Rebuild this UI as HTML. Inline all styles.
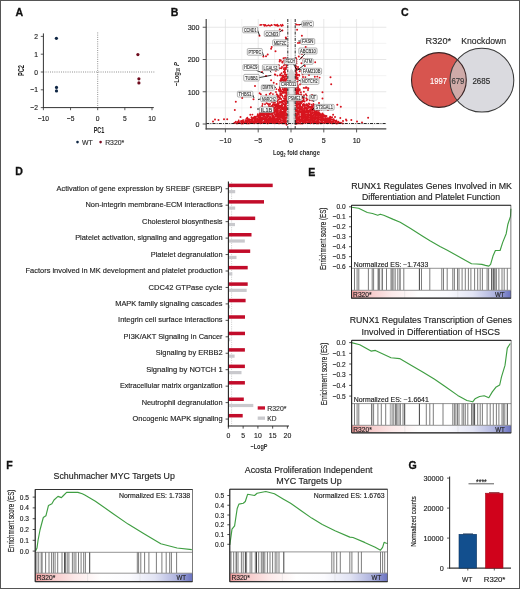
<!DOCTYPE html><html><head><meta charset="utf-8"><style>html,body{margin:0;padding:0;background:#fff;overflow:hidden;width:520px;height:589px;}svg{display:block;will-change:transform;}</style></head><body>
<svg width="520" height="589" viewBox="0 0 520 589" font-family='"Liberation Sans", sans-serif'>
<rect x="0.00" y="0.00" width="520.00" height="589.00" fill="#fff"/>
<text x="15.40" y="15.70" font-size="11.55" fill="#111" font-weight="bold" textLength="7.66" lengthAdjust="spacingAndGlyphs" stroke="#111" stroke-width="0.3">A</text>
<line x1="97.70" y1="32.50" x2="97.70" y2="107.60" stroke="#666" stroke-width="0.8" stroke-dasharray="0.9 1.3"/>
<line x1="43.40" y1="72.00" x2="154.50" y2="72.00" stroke="#666" stroke-width="0.8" stroke-dasharray="0.9 1.3"/>
<line x1="43.40" y1="33.40" x2="43.40" y2="108.10" stroke="#333" stroke-width="1"/>
<line x1="42.90" y1="107.60" x2="153.80" y2="107.60" stroke="#333" stroke-width="1"/>
<line x1="40.80" y1="36.40" x2="43.40" y2="36.40" stroke="#333" stroke-width="0.8"/>
<text x="38.00" y="39.01" font-size="7.30" fill="#222" stroke="#222" stroke-width="0.15" text-anchor="end" textLength="3.73" lengthAdjust="spacingAndGlyphs">2</text>
<line x1="40.80" y1="54.20" x2="43.40" y2="54.20" stroke="#333" stroke-width="0.8"/>
<text x="38.00" y="56.81" font-size="7.30" fill="#222" stroke="#222" stroke-width="0.15" text-anchor="end" textLength="3.73" lengthAdjust="spacingAndGlyphs">1</text>
<line x1="40.80" y1="72.00" x2="43.40" y2="72.00" stroke="#333" stroke-width="0.8"/>
<text x="38.00" y="74.61" font-size="7.30" fill="#222" stroke="#222" stroke-width="0.15" text-anchor="end" textLength="3.73" lengthAdjust="spacingAndGlyphs">0</text>
<line x1="40.80" y1="89.80" x2="43.40" y2="89.80" stroke="#333" stroke-width="0.8"/>
<text x="38.00" y="92.41" font-size="7.30" fill="#222" stroke="#222" stroke-width="0.15" text-anchor="end" textLength="7.64" lengthAdjust="spacingAndGlyphs">−1</text>
<line x1="40.80" y1="107.60" x2="43.40" y2="107.60" stroke="#333" stroke-width="0.8"/>
<text x="38.00" y="110.21" font-size="7.30" fill="#222" stroke="#222" stroke-width="0.15" text-anchor="end" textLength="7.64" lengthAdjust="spacingAndGlyphs">−2</text>
<line x1="43.40" y1="107.60" x2="43.40" y2="110.20" stroke="#333" stroke-width="0.8"/>
<text x="43.40" y="120.71" font-size="7.30" fill="#222" stroke="#222" stroke-width="0.15" text-anchor="middle" textLength="11.37" lengthAdjust="spacingAndGlyphs">−10</text>
<line x1="70.55" y1="107.60" x2="70.55" y2="110.20" stroke="#333" stroke-width="0.8"/>
<text x="70.55" y="120.71" font-size="7.30" fill="#222" stroke="#222" stroke-width="0.15" text-anchor="middle" textLength="7.64" lengthAdjust="spacingAndGlyphs">−5</text>
<line x1="97.70" y1="107.60" x2="97.70" y2="110.20" stroke="#333" stroke-width="0.8"/>
<text x="97.70" y="120.71" font-size="7.30" fill="#222" stroke="#222" stroke-width="0.15" text-anchor="middle" textLength="3.73" lengthAdjust="spacingAndGlyphs">0</text>
<line x1="124.85" y1="107.60" x2="124.85" y2="110.20" stroke="#333" stroke-width="0.8"/>
<text x="124.85" y="120.71" font-size="7.30" fill="#222" stroke="#222" stroke-width="0.15" text-anchor="middle" textLength="3.73" lengthAdjust="spacingAndGlyphs">5</text>
<line x1="152.00" y1="107.60" x2="152.00" y2="110.20" stroke="#333" stroke-width="0.8"/>
<text x="152.00" y="120.71" font-size="7.30" fill="#222" stroke="#222" stroke-width="0.15" text-anchor="middle" textLength="7.45" lengthAdjust="spacingAndGlyphs">10</text>
<text x="99.00" y="133.26" font-size="9.37" fill="#222" text-anchor="middle" font-weight="bold" textLength="10.70" lengthAdjust="spacingAndGlyphs">PC1</text>
<text x="23.60" y="70.60" font-size="9.37" fill="#222" text-anchor="middle" font-weight="bold" textLength="11.00" lengthAdjust="spacingAndGlyphs" transform="rotate(-90 23.60 70.60)">PC2</text>
<circle cx="56.40" cy="38.30" r="1.6" fill="#0f2644"/>
<circle cx="56.50" cy="87.40" r="1.6" fill="#0f2644"/>
<circle cx="56.50" cy="90.90" r="1.6" fill="#0f2644"/>
<circle cx="137.90" cy="54.60" r="1.6" fill="#6e0a1c"/>
<circle cx="138.90" cy="78.80" r="1.6" fill="#6e0a1c"/>
<circle cx="138.90" cy="82.90" r="1.6" fill="#6e0a1c"/>
<circle cx="77.50" cy="142.10" r="1.3" fill="#0f2644"/>
<text x="82.10" y="144.60" font-size="6.98" fill="#333" stroke="#333" stroke-width="0.15" textLength="10.70" lengthAdjust="spacingAndGlyphs">WT</text>
<circle cx="100.60" cy="142.10" r="1.3" fill="#7a0c20"/>
<text x="105.20" y="144.60" font-size="6.98" fill="#333" stroke="#333" stroke-width="0.15" textLength="19.00" lengthAdjust="spacingAndGlyphs">R320*</text>
<text x="170.80" y="15.70" font-size="11.55" fill="#111" font-weight="bold" textLength="7.66" lengthAdjust="spacingAndGlyphs" stroke="#111" stroke-width="0.3">B</text>
<line x1="209.00" y1="19.00" x2="209.00" y2="128.90" stroke="#ececec" stroke-width="0.6"/>
<line x1="241.80" y1="19.00" x2="241.80" y2="128.90" stroke="#ececec" stroke-width="0.6"/>
<line x1="274.60" y1="19.00" x2="274.60" y2="128.90" stroke="#ececec" stroke-width="0.6"/>
<line x1="307.40" y1="19.00" x2="307.40" y2="128.90" stroke="#ececec" stroke-width="0.6"/>
<line x1="340.20" y1="19.00" x2="340.20" y2="128.90" stroke="#ececec" stroke-width="0.6"/>
<line x1="373.00" y1="19.00" x2="373.00" y2="128.90" stroke="#ececec" stroke-width="0.6"/>
<line x1="206.20" y1="107.88" x2="386.30" y2="107.88" stroke="#ececec" stroke-width="0.6"/>
<line x1="206.20" y1="75.62" x2="386.30" y2="75.62" stroke="#ececec" stroke-width="0.6"/>
<line x1="206.20" y1="43.38" x2="386.30" y2="43.38" stroke="#ececec" stroke-width="0.6"/>
<line x1="225.40" y1="19.00" x2="225.40" y2="128.90" stroke="#dcdcdc" stroke-width="0.7"/>
<line x1="258.20" y1="19.00" x2="258.20" y2="128.90" stroke="#dcdcdc" stroke-width="0.7"/>
<line x1="291.00" y1="19.00" x2="291.00" y2="128.90" stroke="#dcdcdc" stroke-width="0.7"/>
<line x1="323.80" y1="19.00" x2="323.80" y2="128.90" stroke="#dcdcdc" stroke-width="0.7"/>
<line x1="356.60" y1="19.00" x2="356.60" y2="128.90" stroke="#dcdcdc" stroke-width="0.7"/>
<line x1="206.20" y1="124.00" x2="386.30" y2="124.00" stroke="#dcdcdc" stroke-width="0.7"/>
<line x1="206.20" y1="91.75" x2="386.30" y2="91.75" stroke="#dcdcdc" stroke-width="0.7"/>
<line x1="206.20" y1="59.50" x2="386.30" y2="59.50" stroke="#dcdcdc" stroke-width="0.7"/>
<line x1="206.20" y1="27.25" x2="386.30" y2="27.25" stroke="#dcdcdc" stroke-width="0.7"/>
<path d="M287.6,124 L287.6,78 Q288.8,70 291.4,69 Q294.1,70 295.3,78 L295.3,124 Z" fill="#d4d4d4"/>
<path d="M289.5,124 L289.5,90 Q291.4,80 293.4,90 L293.4,124 Z" fill="#ebebeb"/>
<path d="M286.6 124.7h0M296.4 123.9h0M234.0 123.1h0M234.8 122.8h0M236.7 123.4h0M237.8 123.3h0M238.8 122.9h0M239.6 122.9h0M241.4 123.5h0M242.9 123.5h0M243.6 122.8h0M244.7 122.8h0M246.6 123.4h0M247.6 123.3h0M248.9 123.4h0M250.2 123.0h0M251.5 122.9h0M252.9 123.0h0M254.2 123.3h0M254.7 122.7h0M256.5 122.7h0M257.9 123.2h0M258.8 122.7h0M260.4 123.2h0M261.6 123.0h0M262.8 122.8h0M263.6 122.8h0M264.8 123.0h0M266.6 122.9h0M267.6 123.4h0M269.1 123.1h0M270.0 122.6h0M271.0 122.6h0M272.2 123.0h0M273.8 122.9h0M275.0 123.3h0M276.3 122.8h0M277.7 123.1h0M279.0 123.4h0M280.1 123.1h0M281.4 123.0h0M282.5 123.4h0M284.1 123.4h0M285.1 123.4h0M285.9 122.7h0M295.9 122.8h0M297.7 123.3h0M298.4 123.2h0M299.7 123.4h0M301.0 123.5h0M302.5 123.5h0M303.4 123.0h0M304.9 122.8h0M306.4 122.6h0M307.4 122.6h0M308.9 123.1h0M310.4 123.3h0M310.9 122.8h0M312.8 122.8h0M313.7 123.4h0M314.8 122.7h0M316.3 123.2h0M317.1 123.2h0M318.4 123.4h0M320.3 122.7h0M320.9 123.4h0M322.4 123.1h0M323.5 122.7h0M324.8 122.7h0M325.8 122.8h0M327.3 123.3h0M328.8 122.8h0M329.6 122.8h0M331.5 123.1h0M332.5 123.4h0M334.0 123.0h0M335.3 123.0h0M336.4 123.5h0M337.8 123.2h0M338.7 122.9h0M339.7 122.7h0M341.0 122.7h0M342.8 123.4h0M235.9 121.7h0M237.8 121.9h0M238.9 122.0h0M239.6 122.1h0M241.3 121.8h0M242.1 122.0h0M243.4 121.6h0M244.7 122.0h0M246.2 121.7h0M247.7 122.0h0M248.9 121.4h0M249.8 122.0h0M251.3 121.4h0M252.3 122.0h0M253.9 121.6h0M255.0 121.8h0M256.6 121.5h0M257.9 121.4h0M259.0 122.2h0M259.8 121.5h0M261.0 121.9h0M262.5 122.2h0M264.0 121.8h0M265.2 121.6h0M266.2 121.4h0M267.5 121.8h0M268.4 121.7h0M270.3 121.4h0M271.6 121.5h0M272.7 122.2h0M273.6 121.7h0M275.1 121.7h0M276.0 121.4h0M277.8 121.6h0M278.5 121.6h0M279.7 121.7h0M281.6 122.1h0M282.9 122.2h0M283.9 121.4h0M285.0 122.0h0M286.1 121.4h0M295.9 121.8h0M297.3 122.0h0M298.5 121.9h0M300.1 121.7h0M300.9 121.5h0M302.5 121.5h0M304.2 121.8h0M304.7 121.4h0M305.9 121.6h0M307.6 122.1h0M308.7 121.7h0M309.9 121.7h0M311.0 122.2h0M312.5 121.9h0M313.5 121.6h0M314.9 121.8h0M316.6 122.1h0M317.1 122.0h0M318.7 121.9h0M319.9 122.2h0M321.6 122.2h0M322.1 121.5h0M323.9 122.2h0M325.1 122.0h0M326.3 121.4h0M327.3 122.2h0M328.6 121.5h0M330.1 122.0h0M330.9 121.8h0M332.4 121.6h0M333.3 121.6h0M335.4 121.9h0M336.2 121.6h0M337.9 122.0h0M338.3 121.8h0M238.7 120.4h0M241.1 120.9h0M242.4 120.8h0M243.3 120.1h0M245.4 120.3h0M246.6 120.4h0M247.9 120.7h0M248.9 120.4h0M249.6 120.8h0M251.4 120.9h0M252.3 120.5h0M254.2 120.4h0M254.9 120.5h0M256.0 120.8h0M257.8 120.8h0M258.6 120.4h0M260.3 120.2h0M261.5 120.3h0M262.1 120.6h0M264.2 120.9h0M264.8 120.2h0M266.2 120.7h0M267.3 120.5h0M268.9 120.8h0M270.1 120.2h0M271.1 120.6h0M272.7 120.3h0M273.5 120.2h0M275.1 120.4h0M276.7 120.6h0M277.8 120.7h0M278.4 120.5h0M280.3 120.9h0M281.1 120.2h0M282.9 120.6h0M283.6 120.9h0M284.8 120.8h0M285.9 120.6h0M296.0 120.4h0M297.2 120.3h0M298.9 120.3h0M299.8 120.7h0M301.1 120.3h0M302.5 120.2h0M303.7 120.6h0M304.6 120.2h0M306.2 120.4h0M307.9 120.4h0M308.6 120.5h0M310.4 120.4h0M311.5 120.3h0M312.9 120.5h0M313.7 120.9h0M314.7 120.1h0M316.4 120.9h0M317.6 120.4h0M318.4 120.4h0M320.4 120.2h0M321.5 121.0h0M322.2 120.9h0M323.7 120.1h0M324.9 120.9h0M326.5 120.2h0M327.2 120.5h0M329.0 120.3h0M329.9 120.6h0M330.9 120.3h0M332.9 120.1h0M334.0 120.1h0M334.7 120.6h0M336.4 120.4h0M247.8 118.9h0M248.9 119.2h0M249.8 119.7h0M251.1 119.5h0M252.2 119.5h0M254.0 119.1h0M255.4 119.4h0M256.1 118.9h0M257.2 119.4h0M258.8 119.7h0M259.8 119.4h0M260.8 119.2h0M262.4 119.1h0M263.8 119.0h0M265.0 119.0h0M266.0 119.0h0M267.6 119.6h0M268.7 119.1h0M270.1 119.4h0M271.4 119.2h0M272.7 119.1h0M273.3 119.3h0M274.8 118.9h0M275.8 119.3h0M277.2 119.0h0M278.8 119.4h0M279.7 119.1h0M280.8 119.7h0M282.7 118.9h0M284.0 119.3h0M285.0 119.1h0M286.0 118.9h0M296.5 119.5h0M297.7 119.1h0M298.7 119.6h0M299.8 119.4h0M301.0 119.6h0M302.3 119.1h0M304.2 119.5h0M305.3 119.1h0M306.6 119.4h0M307.6 119.7h0M309.1 119.5h0M309.9 119.5h0M311.1 119.0h0M312.1 119.7h0M313.3 118.9h0M314.9 119.0h0M315.8 119.5h0M317.7 119.5h0M318.8 119.2h0M320.3 119.7h0M321.6 119.7h0M322.1 119.0h0M323.3 119.6h0M325.1 119.6h0M326.1 118.9h0M327.7 119.0h0M328.7 118.9h0M329.8 119.5h0M331.1 119.7h0M332.8 119.4h0M333.7 119.2h0M346.0 119.5h0M247.3 117.8h0M251.7 117.7h0M252.9 118.3h0M253.7 117.8h0M254.6 117.8h0M255.8 118.0h0M257.7 118.1h0M258.7 117.7h0M259.9 118.3h0M261.2 118.1h0M262.4 117.8h0M264.1 118.3h0M265.3 118.2h0M266.2 117.9h0M267.1 118.0h0M268.9 118.2h0M269.9 118.0h0M271.2 118.2h0M272.2 118.2h0M273.6 118.0h0M274.6 118.1h0M276.5 118.4h0M277.1 118.1h0M278.9 118.1h0M280.3 118.1h0M281.7 117.8h0M282.4 118.3h0M284.2 117.9h0M284.8 118.0h0M286.2 118.0h0M296.1 117.8h0M297.7 118.4h0M298.5 118.3h0M299.7 117.7h0M301.5 118.2h0M302.6 117.8h0M303.6 118.2h0M305.3 118.0h0M306.3 117.7h0M307.4 118.4h0M308.6 117.8h0M309.7 117.6h0M311.1 117.8h0M312.5 118.0h0M313.9 117.9h0M315.3 117.7h0M316.6 118.3h0M317.8 118.2h0M318.3 118.5h0M319.8 117.7h0M321.0 118.3h0M322.2 118.4h0M323.5 118.4h0M325.3 118.2h0M326.5 118.4h0M327.7 118.1h0M328.7 118.4h0M329.8 117.8h0M331.2 117.7h0M340.3 118.0h0M251.5 117.2h0M254.0 117.1h0M254.8 116.6h0M256.1 116.7h0M257.9 116.4h0M258.3 116.5h0M260.1 117.2h0M260.8 116.7h0M262.9 117.2h0M263.7 116.4h0M264.7 116.5h0M265.8 117.0h0M267.9 116.4h0M268.4 116.4h0M269.8 117.0h0M270.8 117.0h0M272.8 117.0h0M273.9 117.0h0M275.4 116.6h0M276.4 116.4h0M277.6 117.1h0M278.6 117.0h0M280.3 116.8h0M281.1 116.9h0M282.7 116.5h0M283.6 116.9h0M284.9 116.7h0M286.7 117.1h0M296.1 116.4h0M297.7 117.1h0M298.8 117.2h0M300.1 116.6h0M301.6 116.7h0M302.6 117.2h0M303.6 116.4h0M304.9 116.9h0M306.6 116.4h0M307.8 117.1h0M308.5 117.1h0M310.2 117.2h0M310.9 116.8h0M312.2 117.0h0M313.5 116.9h0M315.0 116.5h0M316.5 117.1h0M317.1 117.1h0M318.5 116.9h0M320.3 116.8h0M321.3 116.5h0M322.2 117.0h0M323.8 116.7h0M324.7 116.4h0M326.1 116.4h0M330.1 116.7h0M332.1 117.2h0M257.6 115.2h0M258.4 115.7h0M259.7 115.9h0M261.2 115.2h0M262.8 115.4h0M263.7 115.4h0M264.7 116.0h0M266.6 115.7h0M267.5 115.4h0M268.5 115.4h0M272.1 115.4h0M273.4 115.8h0M275.4 115.1h0M276.1 115.2h0M277.8 115.6h0M278.7 115.9h0M280.1 115.2h0M281.5 115.7h0M282.1 115.2h0M283.7 115.3h0M285.1 115.7h0M286.3 115.3h0M296.5 115.5h0M297.1 115.8h0M299.1 115.9h0M299.6 115.9h0M301.6 115.3h0M302.8 115.4h0M303.6 115.6h0M305.0 115.5h0M305.9 115.7h0M307.8 115.4h0M308.6 115.8h0M310.3 116.0h0M311.3 115.6h0M312.1 116.0h0M313.5 115.2h0M315.3 115.1h0M316.4 115.3h0M317.6 115.6h0M318.9 115.2h0M320.2 115.1h0M321.2 115.6h0M322.2 115.5h0M323.8 115.9h0M325.1 115.8h0M326.5 115.9h0M252.4 114.6h0M257.9 114.1h0M259.6 114.6h0M260.9 114.2h0M262.7 113.9h0M264.2 114.5h0M264.9 114.2h0M266.4 114.6h0M267.5 114.5h0M269.0 114.3h0M270.2 114.7h0M271.6 113.9h0M272.6 114.3h0M274.9 114.6h0M276.3 114.2h0M277.5 114.5h0M278.7 114.3h0M279.8 114.6h0M281.2 114.2h0M282.3 114.0h0M283.8 113.9h0M284.8 114.6h0M286.7 114.0h0M296.6 113.9h0M297.6 114.3h0M299.0 114.3h0M301.3 114.5h0M302.4 114.4h0M304.2 114.5h0M304.6 114.2h0M306.3 114.4h0M307.9 114.3h0M308.9 114.7h0M310.0 114.6h0M311.1 114.7h0M312.5 113.9h0M313.9 114.6h0M316.2 114.0h0M317.5 114.3h0M318.5 114.4h0M319.9 114.7h0M320.8 114.2h0M322.3 114.5h0M323.6 114.6h0M259.9 113.3h0M261.7 112.8h0M263.5 113.0h0M265.2 112.8h0M266.3 112.9h0M267.6 112.8h0M268.4 113.1h0M269.8 113.3h0M271.4 113.1h0M272.4 112.7h0M274.1 112.9h0M274.6 113.1h0M276.3 112.9h0M277.3 112.8h0M278.9 112.9h0M280.4 113.3h0M281.6 112.7h0M282.1 113.2h0M283.6 113.0h0M285.2 112.8h0M286.1 113.2h0M295.9 113.4h0M297.7 112.6h0M298.4 112.8h0M299.9 112.6h0M301.4 112.8h0M302.6 113.2h0M303.7 113.2h0M304.6 113.4h0M306.1 112.6h0M307.6 112.6h0M308.4 113.3h0M310.4 113.3h0M311.4 113.0h0M312.8 112.9h0M314.2 113.0h0M315.2 113.3h0M316.4 113.0h0M317.7 113.0h0M319.1 112.7h0M319.6 113.2h0M322.5 113.5h0M263.4 111.6h0M264.6 112.0h0M266.2 112.2h0M267.1 111.7h0M269.0 111.4h0M270.3 112.1h0M271.1 111.9h0M272.4 111.7h0M273.9 112.1h0M274.7 111.6h0M276.3 111.7h0M277.1 111.6h0M279.2 112.2h0M280.4 112.2h0M281.5 111.4h0M282.6 111.6h0M284.2 111.8h0M284.8 111.7h0M285.8 111.5h0M296.2 111.4h0M297.4 111.9h0M298.8 111.9h0M299.7 111.5h0M301.3 111.5h0M302.3 111.4h0M303.5 111.8h0M304.8 111.9h0M306.3 111.9h0M307.4 111.4h0M309.1 111.8h0M310.2 111.5h0M312.1 112.1h0M313.5 112.2h0M315.2 111.5h0M315.9 111.6h0M317.1 111.9h0M318.6 112.0h0M265.3 110.9h0M266.4 110.4h0M267.7 110.6h0M268.6 110.6h0M269.6 110.4h0M271.7 110.5h0M272.3 110.3h0M273.4 110.1h0M275.0 110.5h0M276.1 110.3h0M277.3 110.4h0M278.8 110.9h0M280.4 110.6h0M281.0 110.6h0M284.0 110.5h0M284.6 110.5h0M286.0 110.3h0M295.9 110.3h0M297.2 110.5h0M298.8 110.9h0M299.7 110.8h0M302.1 110.8h0M303.6 110.2h0M305.0 110.9h0M306.6 110.3h0M307.7 110.7h0M308.9 110.4h0M309.9 110.1h0M311.1 110.5h0M312.3 110.5h0M314.1 110.6h0M316.4 110.8h0M317.1 110.2h0M319.0 110.2h0M267.1 109.0h0M270.4 109.0h0M270.9 109.0h0M272.1 109.2h0M273.9 109.6h0M276.0 109.6h0M277.1 109.3h0M278.7 108.9h0M280.4 109.1h0M280.9 109.3h0M282.4 109.0h0M283.4 109.5h0M284.7 109.2h0M286.6 109.2h0M296.7 109.6h0M297.3 109.0h0M298.4 108.9h0M299.9 109.4h0M300.8 109.5h0M302.5 109.3h0M304.2 109.6h0M304.9 109.1h0M306.7 109.2h0M307.4 109.0h0M310.1 109.7h0M311.3 109.2h0M312.2 109.0h0M314.0 109.7h0M315.2 109.1h0M321.5 109.6h0M268.4 108.3h0M270.0 108.0h0M271.5 107.6h0M272.5 108.0h0M273.7 108.0h0M274.9 108.0h0M276.5 108.2h0M277.4 107.6h0M278.8 108.3h0M279.7 107.8h0M281.5 107.7h0M282.7 108.1h0M283.9 108.2h0M284.6 108.2h0M286.3 108.5h0M296.6 107.7h0M297.5 107.6h0M299.8 107.9h0M301.6 108.1h0M302.4 107.6h0M304.1 108.3h0M304.8 107.8h0M306.3 107.9h0M307.5 108.1h0M309.0 107.8h0M310.1 107.6h0M311.3 108.0h0M312.3 107.8h0M313.6 108.2h0M270.0 106.4h0M270.9 106.9h0M272.4 106.9h0M273.5 107.2h0M275.3 107.1h0M275.9 106.4h0M277.2 106.8h0M278.4 106.8h0M280.0 106.8h0M281.0 106.7h0M282.2 106.6h0M283.8 107.2h0M285.4 106.8h0M286.3 107.0h0M296.5 106.5h0M297.1 106.7h0M298.6 107.2h0M300.1 106.6h0M301.5 107.0h0M302.3 106.9h0M305.1 107.0h0M306.1 107.1h0M307.9 106.4h0M308.7 106.7h0M309.8 107.0h0M310.9 106.7h0M312.2 106.5h0M314.2 107.2h0M262.2 106.0h0M268.8 105.9h0M271.6 105.9h0M272.1 105.7h0M274.2 105.4h0M275.1 105.4h0M276.4 105.9h0M277.4 106.0h0M279.1 105.7h0M280.0 105.8h0M281.5 105.8h0M282.3 105.2h0M284.7 105.6h0M285.8 105.5h0M296.4 105.4h0M297.3 105.6h0M299.2 105.7h0M300.2 105.4h0M302.7 105.3h0M303.8 105.8h0M304.9 105.2h0M306.6 105.2h0M307.2 105.4h0M308.6 105.4h0M312.3 105.9h0M313.6 105.5h0M314.8 105.5h0M262.6 104.0h0M265.0 104.3h0M267.8 103.9h0M268.9 104.2h0M270.1 104.0h0M272.8 104.6h0M273.3 104.6h0M275.0 104.2h0M276.4 104.5h0M277.4 104.3h0M278.5 104.6h0M281.7 104.1h0M283.7 104.0h0M285.2 104.5h0M286.1 104.0h0M296.1 104.0h0M297.5 104.2h0M298.9 104.0h0M300.1 104.5h0M302.9 104.7h0M303.9 103.9h0M304.6 104.6h0M306.4 104.1h0M307.2 104.4h0M309.6 104.0h0M311.6 104.6h0M313.4 104.0h0M266.6 103.1h0M273.3 103.1h0M274.9 102.6h0M277.8 103.3h0M278.4 103.2h0M279.9 102.7h0M282.4 102.7h0M285.3 102.7h0M286.1 103.3h0M296.3 103.5h0M297.1 102.7h0M298.9 103.1h0M300.0 103.0h0M301.4 103.4h0M308.9 103.4h0M271.7 101.7h0M273.5 101.4h0M275.3 101.5h0M277.7 101.5h0M279.9 101.8h0M281.0 102.1h0M282.4 102.0h0M283.5 101.5h0M284.9 101.9h0M286.6 101.4h0M296.6 101.6h0M297.4 101.5h0M298.9 101.4h0M300.0 101.5h0M301.2 101.5h0M302.4 101.8h0M304.6 101.6h0M269.8 100.4h0M275.3 100.8h0M276.3 100.2h0M277.6 100.6h0M282.1 100.9h0M283.5 100.7h0M284.8 100.4h0M286.4 100.2h0M296.4 100.5h0M297.8 100.1h0M298.9 100.7h0M299.7 101.0h0M302.4 101.0h0M303.7 101.0h0M306.5 100.4h0M309.8 100.3h0M312.2 100.5h0M278.6 99.5h0M280.1 98.9h0M281.3 99.0h0M284.7 99.0h0M286.3 99.2h0M296.3 99.5h0M297.1 99.2h0M298.5 99.5h0M299.8 99.3h0M303.7 99.7h0M307.5 99.4h0M310.4 99.7h0M273.6 97.8h0M274.8 97.6h0M277.1 97.7h0M280.0 98.0h0M283.9 98.4h0M285.4 98.3h0M286.6 98.1h0M296.3 98.3h0M297.5 98.0h0M299.7 97.9h0M301.7 98.2h0M302.9 97.6h0M303.7 98.2h0M306.3 98.3h0M272.8 96.9h0M274.1 97.0h0M276.6 96.7h0M277.3 96.8h0M279.0 97.2h0M279.9 97.1h0M282.7 96.7h0M284.9 96.5h0M286.6 97.1h0M296.1 96.8h0M297.4 97.2h0M298.8 97.2h0M300.0 96.6h0M301.3 97.1h0M302.4 96.7h0M277.7 95.2h0M278.4 95.9h0M280.2 95.3h0M282.1 95.5h0M285.1 95.4h0M286.6 95.9h0M297.6 95.8h0M300.3 95.5h0M304.0 95.2h0M306.7 95.6h0M260.8 94.2h0M266.2 94.7h0M269.7 94.0h0M272.9 94.1h0M276.7 94.2h0M277.1 94.6h0M280.2 94.1h0M281.1 94.4h0M286.4 94.0h0M296.3 94.2h0M298.4 94.0h0M300.1 94.6h0M301.3 94.4h0M305.9 94.2h0M259.6 93.3h0M270.8 92.9h0M280.4 93.2h0M282.2 93.1h0M283.6 92.9h0M285.1 92.8h0M286.3 93.1h0M296.4 92.8h0M297.3 93.3h0M276.0 92.0h0M280.0 91.5h0M280.9 91.4h0M282.4 91.8h0M283.9 91.8h0M286.3 91.8h0M296.6 91.5h0M298.6 91.9h0M300.9 92.2h0M303.9 91.8h0M279.0 90.8h0M281.0 90.4h0M283.7 90.6h0M285.4 90.5h0M286.5 90.3h0M296.1 90.8h0M297.3 90.7h0M298.6 90.6h0M299.9 90.1h0M272.4 89.1h0M276.4 89.1h0M278.8 89.6h0M280.2 88.9h0M282.7 89.2h0M283.7 89.3h0M284.7 89.3h0M286.7 89.2h0M296.0 89.7h0M297.6 89.6h0M299.0 89.1h0M299.6 89.3h0M279.8 87.9h0M284.7 87.7h0M286.0 87.9h0M295.9 88.2h0M297.8 87.9h0M303.7 87.9h0M305.3 87.9h0M306.7 87.8h0M308.4 88.2h0M279.8 87.0h0M282.5 87.2h0M286.7 86.4h0M296.3 87.0h0M306.1 87.1h0M281.3 85.9h0M282.3 85.2h0M284.0 85.2h0M285.4 85.5h0M286.6 85.9h0M295.9 85.7h0M297.9 85.7h0M276.6 83.9h0M281.0 84.6h0M284.6 84.5h0M286.2 83.9h0M296.4 84.5h0M297.4 84.5h0M300.0 84.4h0M273.7 82.7h0M282.7 83.3h0M285.4 83.0h0M286.5 82.8h0M296.6 82.8h0M297.2 83.5h0M301.6 83.2h0M307.4 82.7h0M281.0 81.7h0M283.7 82.1h0M285.2 81.6h0M297.6 81.4h0M303.4 81.9h0M271.1 80.2h0M280.2 80.8h0M280.9 80.7h0M282.2 80.2h0M283.4 80.4h0M285.0 80.5h0M285.9 80.4h0M281.0 78.9h0M282.1 79.3h0M283.9 79.4h0M284.8 79.5h0M286.4 79.3h0M296.1 78.9h0M297.6 79.0h0M311.1 79.2h0M281.4 78.3h0M282.5 78.2h0M284.7 78.0h0M286.6 78.5h0M296.1 77.8h0M297.7 77.8h0M319.6 77.6h0M282.6 76.7h0M283.4 77.1h0M285.4 76.5h0M286.3 76.4h0M296.3 76.8h0M305.4 77.1h0M314.8 76.7h0M317.3 76.6h0M277.5 75.6h0M280.0 75.2h0M281.2 75.4h0M282.5 75.4h0M283.3 75.6h0M286.1 75.4h0M296.2 75.8h0M297.2 75.3h0M274.8 74.4h0M280.3 74.5h0M284.7 74.0h0M286.4 74.6h0M295.8 74.7h0M297.3 74.6h0M299.0 74.7h0M302.6 74.4h0M281.6 73.1h0M285.2 72.8h0M296.6 73.0h0M284.2 71.4h0M284.8 71.4h0M296.1 72.1h0M275.9 70.7h0M285.0 70.1h0M296.1 70.4h0M283.8 69.1h0M285.1 69.7h0M286.0 69.0h0M296.5 68.9h0M276.2 68.5h0M279.8 68.3h0M281.5 68.3h0M284.1 67.9h0M285.4 68.1h0M285.9 67.6h0M295.9 68.3h0M273.8 67.1h0M286.5 67.0h0M296.0 66.6h0M283.8 65.5h0M286.5 65.6h0M295.9 66.0h0M285.1 64.2h0M286.3 64.7h0M285.2 63.3h0M286.2 63.0h0M296.5 63.4h0M301.4 63.3h0M279.6 61.5h0M282.4 61.7h0M296.4 61.5h0M315.2 62.2h0M284.2 60.8h0M285.1 60.4h0M286.6 60.4h0M296.0 60.3h0M303.6 60.6h0M285.4 59.6h0M286.3 59.4h0M296.5 59.5h0M304.0 59.3h0M283.5 58.2h0M285.1 57.9h0M286.5 58.4h0M296.2 58.1h0M301.6 57.6h0" stroke="#d7141e" stroke-width="1.9" stroke-linecap="round" fill="none"/>
<path d="M288.4 97.0h0M294.2 97.7h0M288.9 80.6h0M293.9 114.0h0M293.6 114.6h0M288.5 96.0h0M288.9 118.0h0M293.9 98.1h0M288.4 112.4h0M289.3 115.1h0M294.6 109.3h0M293.5 91.3h0M293.7 85.7h0M288.4 123.3h0M293.4 97.2h0M289.2 100.6h0M294.4 85.9h0M293.9 117.9h0M289.2 97.3h0M294.4 113.6h0M294.1 84.3h0M289.3 97.7h0M293.9 99.3h0M289.1 121.3h0M288.6 115.4h0M288.7 89.9h0M288.5 80.5h0M294.5 100.3h0M288.4 92.4h0M288.6 113.1h0M288.5 82.4h0M288.6 116.9h0M288.8 88.0h0M289.2 84.1h0M294.1 115.3h0M288.4 93.7h0M294.7 96.9h0M288.6 119.7h0M293.8 102.1h0M294.5 100.7h0M294.0 91.7h0M294.3 98.0h0M294.5 109.1h0M288.7 120.9h0M293.9 118.4h0M289.2 93.3h0M288.9 117.9h0M294.2 102.5h0M294.5 87.4h0M289.0 80.6h0M288.7 92.2h0M294.0 84.4h0M294.2 103.5h0M288.3 100.9h0M293.9 98.9h0M288.7 116.0h0M288.4 98.1h0M293.7 95.0h0M293.9 90.2h0M294.5 94.6h0M293.9 109.3h0M294.0 91.7h0M289.3 104.7h0M288.6 115.9h0M288.9 83.9h0M289.0 93.2h0M294.1 96.1h0M288.8 116.5h0M289.0 119.4h0M294.0 82.0h0M294.5 98.4h0M294.0 98.8h0M293.8 97.9h0M293.4 100.4h0M288.7 111.2h0M294.4 94.0h0M288.8 112.4h0M293.7 84.1h0M293.5 90.1h0M294.3 92.0h0M289.1 109.0h0M294.0 84.7h0M293.5 101.6h0M288.8 116.3h0M293.4 97.9h0M294.5 109.7h0M288.8 117.0h0M288.4 102.8h0M289.1 112.5h0M293.6 87.3h0" stroke="#c6c6c6" stroke-width="1.1" stroke-linecap="round" fill="none"/>
<circle cx="224.00" cy="119.30" r="1.0" fill="#d7141e"/>
<circle cx="227.20" cy="119.30" r="1.0" fill="#d7141e"/>
<circle cx="235.80" cy="101.80" r="1.0" fill="#d7141e"/>
<circle cx="234.80" cy="110.10" r="1.0" fill="#d7141e"/>
<circle cx="250.90" cy="107.20" r="1.0" fill="#d7141e"/>
<circle cx="242.20" cy="98.00" r="1.0" fill="#d7141e"/>
<circle cx="253.50" cy="99.20" r="1.0" fill="#d7141e"/>
<circle cx="240.50" cy="117.00" r="1.0" fill="#d7141e"/>
<circle cx="246.50" cy="118.70" r="1.0" fill="#d7141e"/>
<circle cx="250.30" cy="114.80" r="1.0" fill="#d7141e"/>
<circle cx="215.00" cy="119.50" r="1.0" fill="#d7141e"/>
<circle cx="218.50" cy="120.00" r="1.0" fill="#d7141e"/>
<circle cx="213.00" cy="121.50" r="1.0" fill="#d7141e"/>
<circle cx="322.50" cy="92.30" r="1.0" fill="#d7141e"/>
<circle cx="322.50" cy="98.50" r="1.0" fill="#d7141e"/>
<circle cx="337.30" cy="104.80" r="1.0" fill="#d7141e"/>
<circle cx="340.80" cy="106.70" r="1.0" fill="#d7141e"/>
<circle cx="333.10" cy="114.80" r="1.0" fill="#d7141e"/>
<circle cx="346.50" cy="120.60" r="1.0" fill="#d7141e"/>
<circle cx="351.30" cy="120.00" r="1.0" fill="#d7141e"/>
<circle cx="368.10" cy="117.70" r="1.0" fill="#d7141e"/>
<circle cx="331.20" cy="84.30" r="1.0" fill="#d7141e"/>
<circle cx="330.50" cy="77.20" r="1.0" fill="#d7141e"/>
<circle cx="357.00" cy="121.50" r="1.0" fill="#d7141e"/>
<circle cx="362.00" cy="122.50" r="1.0" fill="#d7141e"/>
<circle cx="259.50" cy="35.70" r="1.0" fill="#d7141e"/>
<circle cx="282.40" cy="30.50" r="1.0" fill="#d7141e"/>
<circle cx="279.80" cy="29.50" r="1.0" fill="#d7141e"/>
<circle cx="285.80" cy="37.50" r="1.0" fill="#d7141e"/>
<circle cx="271.70" cy="47.00" r="1.0" fill="#d7141e"/>
<circle cx="271.10" cy="48.70" r="1.0" fill="#d7141e"/>
<circle cx="275.50" cy="51.30" r="1.0" fill="#d7141e"/>
<circle cx="263.40" cy="56.50" r="1.0" fill="#d7141e"/>
<circle cx="266.00" cy="56.20" r="1.0" fill="#d7141e"/>
<circle cx="267.70" cy="54.40" r="1.0" fill="#d7141e"/>
<circle cx="279.80" cy="60.00" r="1.0" fill="#d7141e"/>
<circle cx="282.40" cy="62.60" r="1.0" fill="#d7141e"/>
<circle cx="278.90" cy="65.20" r="1.0" fill="#d7141e"/>
<circle cx="280.80" cy="60.60" r="1.0" fill="#d7141e"/>
<circle cx="282.00" cy="67.10" r="1.0" fill="#d7141e"/>
<circle cx="283.80" cy="71.90" r="1.0" fill="#d7141e"/>
<circle cx="275.40" cy="74.80" r="1.0" fill="#d7141e"/>
<circle cx="284.30" cy="76.60" r="1.0" fill="#d7141e"/>
<circle cx="281.40" cy="80.20" r="1.0" fill="#d7141e"/>
<circle cx="285.50" cy="89.70" r="1.0" fill="#d7141e"/>
<circle cx="286.00" cy="38.50" r="1.0" fill="#d7141e"/>
<circle cx="262.00" cy="72.00" r="1.0" fill="#d7141e"/>
<circle cx="266.00" cy="76.00" r="1.0" fill="#d7141e"/>
<circle cx="270.00" cy="69.00" r="1.0" fill="#d7141e"/>
<circle cx="258.00" cy="79.00" r="1.0" fill="#d7141e"/>
<circle cx="255.00" cy="86.00" r="1.0" fill="#d7141e"/>
<circle cx="268.00" cy="88.00" r="1.0" fill="#d7141e"/>
<circle cx="297.10" cy="29.70" r="1.0" fill="#d7141e"/>
<circle cx="296.20" cy="24.50" r="1.0" fill="#d7141e"/>
<circle cx="301.90" cy="35.80" r="1.0" fill="#d7141e"/>
<circle cx="299.70" cy="42.70" r="1.0" fill="#d7141e"/>
<circle cx="305.70" cy="47.00" r="1.0" fill="#d7141e"/>
<circle cx="298.80" cy="56.50" r="1.0" fill="#d7141e"/>
<circle cx="298.00" cy="66.90" r="1.0" fill="#d7141e"/>
<circle cx="304.90" cy="66.00" r="1.0" fill="#d7141e"/>
<circle cx="299.70" cy="71.20" r="1.0" fill="#d7141e"/>
<circle cx="298.00" cy="68.90" r="1.0" fill="#d7141e"/>
<circle cx="299.20" cy="75.40" r="1.0" fill="#d7141e"/>
<circle cx="298.00" cy="87.30" r="1.0" fill="#d7141e"/>
<circle cx="297.40" cy="92.10" r="1.0" fill="#d7141e"/>
<circle cx="303.00" cy="77.00" r="1.0" fill="#d7141e"/>
<circle cx="306.00" cy="71.00" r="1.0" fill="#d7141e"/>
<circle cx="309.00" cy="75.00" r="1.0" fill="#d7141e"/>
<circle cx="313.00" cy="80.00" r="1.0" fill="#d7141e"/>
<circle cx="298.00" cy="43.00" r="1.0" fill="#d7141e"/>
<circle cx="300.00" cy="49.00" r="1.0" fill="#d7141e"/>
<circle cx="302.00" cy="54.00" r="1.0" fill="#d7141e"/>
<circle cx="308.00" cy="90.00" r="1.0" fill="#d7141e"/>
<circle cx="312.00" cy="95.00" r="1.0" fill="#d7141e"/>
<circle cx="316.00" cy="99.00" r="1.0" fill="#d7141e"/>
<circle cx="319.00" cy="103.00" r="1.0" fill="#d7141e"/>
<circle cx="324.00" cy="108.00" r="1.0" fill="#d7141e"/>
<circle cx="328.00" cy="110.00" r="1.0" fill="#d7141e"/>
<circle cx="335.00" cy="117.00" r="1.0" fill="#d7141e"/>
<circle cx="343.00" cy="121.00" r="1.0" fill="#d7141e"/>
<path d="M260.8 24.9h0M279.0 25.8h0M261.4 24.7h0M278.8 25.7h0M267.5 25.6h0M264.0 24.9h0M277.9 25.2h0M263.2 24.7h0M275.9 25.6h0M277.4 24.6h0M264.0 24.7h0M274.2 24.7h0M265.1 25.2h0M260.0 25.1h0M281.8 26.0h0M264.5 25.4h0M269.7 25.7h0M277.1 25.6h0M261.2 25.1h0M282.5 24.6h0M277.9 26.1h0M276.3 25.0h0M272.0 25.3h0M274.6 24.8h0M278.2 26.0h0M265.6 25.2h0M280.7 24.8h0M268.9 25.5h0M266.2 26.0h0M271.1 25.1h0M282.6 25.0h0M275.6 25.1h0M265.8 25.2h0M275.1 25.3h0M281.8 25.8h0M271.6 24.9h0M280.9 25.4h0M264.4 26.0h0M268.7 25.1h0M281.4 26.1h0M270.1 26.0h0M283.0 25.5h0M265.1 24.7h0M271.0 25.3h0M277.4 24.7h0" stroke="#d7141e" stroke-width="1.6" stroke-linecap="round" fill="none"/>
<circle cx="297.50" cy="24.80" r="0.7" fill="#d7141e"/>
<circle cx="298.50" cy="24.80" r="0.7" fill="#d7141e"/>
<circle cx="299.50" cy="24.80" r="0.7" fill="#d7141e"/>
<line x1="206.20" y1="123.50" x2="386.30" y2="123.50" stroke="#111" stroke-width="0.9" stroke-dasharray="3 1.2 0.9 1.2"/>
<line x1="287.80" y1="19.00" x2="287.80" y2="128.90" stroke="#111" stroke-width="0.9" stroke-dasharray="3 1.2 0.9 1.2"/>
<line x1="295.20" y1="19.00" x2="295.20" y2="128.90" stroke="#111" stroke-width="0.9" stroke-dasharray="3 1.2 0.9 1.2"/>
<line x1="257.70" y1="30.50" x2="259.50" y2="35.50" stroke="#000" stroke-width="0.8"/>
<line x1="279.60" y1="32.00" x2="282.30" y2="30.20" stroke="#000" stroke-width="0.8"/>
<line x1="286.00" y1="39.90" x2="286.50" y2="38.50" stroke="#000" stroke-width="0.8"/>
<line x1="262.30" y1="52.00" x2="263.50" y2="56.00" stroke="#000" stroke-width="0.8"/>
<line x1="256.40" y1="70.40" x2="263.80" y2="73.40" stroke="#000" stroke-width="0.8"/>
<line x1="270.00" y1="70.60" x2="271.00" y2="72.50" stroke="#000" stroke-width="0.8"/>
<line x1="259.20" y1="77.60" x2="271.30" y2="75.30" stroke="#000" stroke-width="0.8"/>
<line x1="274.40" y1="87.00" x2="276.00" y2="87.50" stroke="#000" stroke-width="0.8"/>
<line x1="290.00" y1="81.80" x2="290.00" y2="80.00" stroke="#000" stroke-width="0.8"/>
<line x1="252.80" y1="95.00" x2="254.00" y2="98.00" stroke="#000" stroke-width="0.8"/>
<line x1="260.70" y1="99.00" x2="258.00" y2="99.50" stroke="#000" stroke-width="0.8"/>
<line x1="259.60" y1="109.00" x2="257.00" y2="109.00" stroke="#000" stroke-width="0.8"/>
<line x1="301.90" y1="97.00" x2="305.00" y2="97.00" stroke="#000" stroke-width="0.8"/>
<line x1="313.00" y1="100.20" x2="314.00" y2="102.00" stroke="#000" stroke-width="0.8"/>
<line x1="314.20" y1="108.00" x2="312.00" y2="110.00" stroke="#000" stroke-width="0.8"/>
<line x1="302.00" y1="24.00" x2="299.50" y2="24.80" stroke="#000" stroke-width="0.8"/>
<line x1="300.90" y1="41.00" x2="298.30" y2="41.00" stroke="#000" stroke-width="0.8"/>
<line x1="305.00" y1="54.00" x2="299.40" y2="59.80" stroke="#000" stroke-width="0.8"/>
<line x1="293.50" y1="64.30" x2="297.30" y2="70.40" stroke="#000" stroke-width="0.8"/>
<line x1="305.00" y1="64.30" x2="297.70" y2="70.00" stroke="#000" stroke-width="0.8"/>
<line x1="301.60" y1="70.00" x2="298.00" y2="69.00" stroke="#000" stroke-width="0.8"/>
<line x1="300.90" y1="81.00" x2="298.30" y2="80.00" stroke="#000" stroke-width="0.8"/>
<rect x="242.70" y="27.00" width="15.00" height="5.80" rx="1" fill="#fff" stroke="#7a7a7a" stroke-width="0.6"/>
<text x="250.20" y="31.73" font-size="5.12" fill="#333" stroke="#333" stroke-width="0.15" text-anchor="middle" textLength="12.60" lengthAdjust="spacingAndGlyphs">CCND1</text>
<rect x="264.30" y="30.90" width="15.30" height="5.60" rx="1" fill="#fff" stroke="#7a7a7a" stroke-width="0.6"/>
<text x="271.95" y="35.53" font-size="5.12" fill="#333" stroke="#333" stroke-width="0.15" text-anchor="middle" textLength="12.90" lengthAdjust="spacingAndGlyphs">CCND3</text>
<rect x="272.70" y="39.90" width="15.00" height="5.80" rx="1" fill="#fff" stroke="#7a7a7a" stroke-width="0.6"/>
<text x="280.20" y="44.63" font-size="5.12" fill="#333" stroke="#333" stroke-width="0.15" text-anchor="middle" textLength="12.60" lengthAdjust="spacingAndGlyphs">MEF2C</text>
<rect x="247.30" y="48.60" width="15.00" height="6.60" rx="1" fill="#fff" stroke="#7a7a7a" stroke-width="0.6"/>
<text x="254.80" y="53.73" font-size="5.12" fill="#333" stroke="#333" stroke-width="0.15" text-anchor="middle" textLength="12.60" lengthAdjust="spacingAndGlyphs">PTPRC</text>
<rect x="243.00" y="64.50" width="15.60" height="5.90" rx="1" fill="#fff" stroke="#7a7a7a" stroke-width="0.6"/>
<text x="250.80" y="69.28" font-size="5.12" fill="#333" stroke="#333" stroke-width="0.15" text-anchor="middle" textLength="13.20" lengthAdjust="spacingAndGlyphs">HDAC9</text>
<rect x="262.40" y="64.80" width="16.70" height="5.80" rx="1" fill="#fff" stroke="#7a7a7a" stroke-width="0.6"/>
<text x="270.75" y="69.53" font-size="5.12" fill="#333" stroke="#333" stroke-width="0.15" text-anchor="middle" textLength="14.30" lengthAdjust="spacingAndGlyphs">LGALS1</text>
<rect x="243.80" y="74.40" width="15.40" height="6.60" rx="1" fill="#fff" stroke="#7a7a7a" stroke-width="0.6"/>
<text x="251.50" y="79.53" font-size="5.12" fill="#333" stroke="#333" stroke-width="0.15" text-anchor="middle" textLength="13.00" lengthAdjust="spacingAndGlyphs">TUBB1</text>
<rect x="261.30" y="85.00" width="13.10" height="5.20" rx="1" fill="#fff" stroke="#7a7a7a" stroke-width="0.6"/>
<text x="267.85" y="89.43" font-size="5.12" fill="#333" stroke="#333" stroke-width="0.15" text-anchor="middle" textLength="10.70" lengthAdjust="spacingAndGlyphs">DMTN</text>
<rect x="279.70" y="81.80" width="17.60" height="5.70" rx="1" fill="#fff" stroke="#7a7a7a" stroke-width="0.6"/>
<text x="288.50" y="86.48" font-size="5.12" fill="#333" stroke="#333" stroke-width="0.15" text-anchor="middle" textLength="15.20" lengthAdjust="spacingAndGlyphs">CARD11</text>
<rect x="237.40" y="91.30" width="15.40" height="5.70" rx="1" fill="#fff" stroke="#7a7a7a" stroke-width="0.6"/>
<text x="245.10" y="95.98" font-size="5.12" fill="#333" stroke="#333" stroke-width="0.15" text-anchor="middle" textLength="13.00" lengthAdjust="spacingAndGlyphs">THBS1</text>
<rect x="260.70" y="96.00" width="16.30" height="5.70" rx="1" fill="#fff" stroke="#7a7a7a" stroke-width="0.6"/>
<text x="268.85" y="100.68" font-size="5.12" fill="#333" stroke="#333" stroke-width="0.15" text-anchor="middle" textLength="13.90" lengthAdjust="spacingAndGlyphs">MARCH2</text>
<rect x="259.60" y="107.00" width="13.80" height="5.50" rx="1" fill="#fff" stroke="#7a7a7a" stroke-width="0.6"/>
<text x="266.50" y="111.58" font-size="5.12" fill="#333" stroke="#333" stroke-width="0.15" text-anchor="middle" textLength="11.40" lengthAdjust="spacingAndGlyphs">IL1B</text>
<rect x="287.10" y="94.90" width="14.80" height="5.90" rx="1" fill="#fff" stroke="#7a7a7a" stroke-width="0.6"/>
<text x="294.50" y="99.68" font-size="5.12" fill="#333" stroke="#333" stroke-width="0.15" text-anchor="middle" textLength="12.40" lengthAdjust="spacingAndGlyphs">PSME1</text>
<rect x="309.30" y="94.90" width="7.90" height="5.30" rx="1" fill="#fff" stroke="#7a7a7a" stroke-width="0.6"/>
<text x="313.25" y="99.38" font-size="5.12" fill="#333" stroke="#333" stroke-width="0.15" text-anchor="middle" textLength="5.50" lengthAdjust="spacingAndGlyphs">KIT</text>
<rect x="314.20" y="104.40" width="19.90" height="5.70" rx="1" fill="#fff" stroke="#7a7a7a" stroke-width="0.6"/>
<text x="324.15" y="109.08" font-size="5.12" fill="#333" stroke="#333" stroke-width="0.15" text-anchor="middle" textLength="17.50" lengthAdjust="spacingAndGlyphs">ST3GAL1</text>
<rect x="302.00" y="21.00" width="11.40" height="5.90" rx="1" fill="#fff" stroke="#7a7a7a" stroke-width="0.6"/>
<text x="307.70" y="25.78" font-size="5.12" fill="#333" stroke="#333" stroke-width="0.15" text-anchor="middle" textLength="9.00" lengthAdjust="spacingAndGlyphs">MYC</text>
<rect x="300.90" y="38.60" width="13.80" height="5.80" rx="1" fill="#fff" stroke="#7a7a7a" stroke-width="0.6"/>
<text x="307.80" y="43.33" font-size="5.12" fill="#333" stroke="#333" stroke-width="0.15" text-anchor="middle" textLength="11.40" lengthAdjust="spacingAndGlyphs">FASN</text>
<rect x="298.80" y="48.00" width="18.20" height="6.00" rx="1" fill="#fff" stroke="#7a7a7a" stroke-width="0.6"/>
<text x="307.90" y="52.83" font-size="5.12" fill="#333" stroke="#333" stroke-width="0.15" text-anchor="middle" textLength="15.80" lengthAdjust="spacingAndGlyphs">ABCB10</text>
<rect x="284.20" y="58.60" width="12.10" height="5.70" rx="1" fill="#fff" stroke="#7a7a7a" stroke-width="0.6"/>
<text x="290.25" y="63.28" font-size="5.12" fill="#333" stroke="#333" stroke-width="0.15" text-anchor="middle" textLength="9.70" lengthAdjust="spacingAndGlyphs">FECH</text>
<rect x="302.90" y="58.70" width="10.20" height="5.60" rx="1" fill="#fff" stroke="#7a7a7a" stroke-width="0.6"/>
<text x="308.00" y="63.33" font-size="5.12" fill="#333" stroke="#333" stroke-width="0.15" text-anchor="middle" textLength="7.80" lengthAdjust="spacingAndGlyphs">ATM</text>
<rect x="301.60" y="68.30" width="20.00" height="5.90" rx="1" fill="#fff" stroke="#7a7a7a" stroke-width="0.6"/>
<text x="311.60" y="73.08" font-size="5.12" fill="#333" stroke="#333" stroke-width="0.15" text-anchor="middle" textLength="17.60" lengthAdjust="spacingAndGlyphs">FAM210B</text>
<rect x="300.90" y="78.60" width="18.00" height="5.70" rx="1" fill="#fff" stroke="#7a7a7a" stroke-width="0.6"/>
<text x="309.90" y="83.28" font-size="5.12" fill="#333" stroke="#333" stroke-width="0.15" text-anchor="middle" textLength="15.60" lengthAdjust="spacingAndGlyphs">NOTCH2</text>
<line x1="206.20" y1="19.00" x2="206.20" y2="129.50" stroke="#444" stroke-width="1.2"/>
<line x1="205.60" y1="128.90" x2="386.30" y2="128.90" stroke="#444" stroke-width="1.2"/>
<line x1="202.70" y1="124.00" x2="206.20" y2="124.00" stroke="#444" stroke-width="0.9"/>
<text x="199.50" y="126.77" font-size="7.74" fill="#222" stroke="#222" stroke-width="0.15" text-anchor="end" textLength="3.95" lengthAdjust="spacingAndGlyphs">0</text>
<line x1="202.70" y1="91.75" x2="206.20" y2="91.75" stroke="#444" stroke-width="0.9"/>
<text x="199.50" y="94.52" font-size="7.74" fill="#222" stroke="#222" stroke-width="0.15" text-anchor="end" textLength="11.85" lengthAdjust="spacingAndGlyphs">100</text>
<line x1="202.70" y1="59.50" x2="206.20" y2="59.50" stroke="#444" stroke-width="0.9"/>
<text x="199.50" y="62.27" font-size="7.74" fill="#222" stroke="#222" stroke-width="0.15" text-anchor="end" textLength="11.85" lengthAdjust="spacingAndGlyphs">200</text>
<line x1="202.70" y1="27.25" x2="206.20" y2="27.25" stroke="#444" stroke-width="0.9"/>
<text x="199.50" y="30.02" font-size="7.74" fill="#222" stroke="#222" stroke-width="0.15" text-anchor="end" textLength="11.85" lengthAdjust="spacingAndGlyphs">300</text>
<line x1="225.40" y1="128.90" x2="225.40" y2="132.40" stroke="#444" stroke-width="0.9"/>
<text x="225.40" y="142.77" font-size="7.74" fill="#222" stroke="#222" stroke-width="0.15" text-anchor="middle" textLength="12.04" lengthAdjust="spacingAndGlyphs">−10</text>
<line x1="258.20" y1="128.90" x2="258.20" y2="132.40" stroke="#444" stroke-width="0.9"/>
<text x="258.20" y="142.77" font-size="7.74" fill="#222" stroke="#222" stroke-width="0.15" text-anchor="middle" textLength="8.09" lengthAdjust="spacingAndGlyphs">−5</text>
<line x1="291.00" y1="128.90" x2="291.00" y2="132.40" stroke="#444" stroke-width="0.9"/>
<text x="291.00" y="142.77" font-size="7.74" fill="#222" stroke="#222" stroke-width="0.15" text-anchor="middle" textLength="3.95" lengthAdjust="spacingAndGlyphs">0</text>
<line x1="323.80" y1="128.90" x2="323.80" y2="132.40" stroke="#444" stroke-width="0.9"/>
<text x="323.80" y="142.77" font-size="7.74" fill="#222" stroke="#222" stroke-width="0.15" text-anchor="middle" textLength="3.95" lengthAdjust="spacingAndGlyphs">5</text>
<line x1="356.60" y1="128.90" x2="356.60" y2="132.40" stroke="#444" stroke-width="0.9"/>
<text x="356.60" y="142.77" font-size="7.74" fill="#222" stroke="#222" stroke-width="0.15" text-anchor="middle" textLength="7.90" lengthAdjust="spacingAndGlyphs">10</text>
<text transform="translate(178.5,74.2) rotate(-90)" font-size="7.6" font-weight="bold" fill="#2a2a2a" text-anchor="middle" textLength="24.2" lengthAdjust="spacingAndGlyphs">−Log<tspan font-size="5.2" dy="1.6">10</tspan><tspan dy="-1.6" font-style="italic"> P</tspan></text>
<text x="296.4" y="155.0" font-size="7.6" font-weight="bold" fill="#2a2a2a" text-anchor="middle" textLength="47" lengthAdjust="spacingAndGlyphs">Log<tspan font-size="4.8" dy="1.6">2</tspan><tspan dy="-1.6"> fold change</tspan></text>
<text x="400.90" y="16.00" font-size="11.55" fill="#111" font-weight="bold" textLength="7.66" lengthAdjust="spacingAndGlyphs" stroke="#111" stroke-width="0.3">C</text>
<defs><clipPath id="cpRed"><circle cx="438.9" cy="80.0" r="27.4"/></clipPath></defs>
<circle cx="438.90" cy="80.00" r="27.4" fill="#d7554f"/>
<circle cx="481.90" cy="80.20" r="31.9" fill="#dadadf"/>
<circle cx="481.9" cy="80.2" r="31.9" fill="#cfaaa8" clip-path="url(#cpRed)"/>
<circle cx="438.90" cy="80.00" r="27.4" fill="none" stroke="#3a2424" stroke-width="1.1"/>
<circle cx="481.90" cy="80.20" r="31.9" fill="none" stroke="#3a3a3a" stroke-width="1.05"/>
<text x="438.30" y="44.41" font-size="9.81" fill="#2a2a2a" stroke="#2a2a2a" stroke-width="0.15" text-anchor="middle" textLength="25.60" lengthAdjust="spacingAndGlyphs">R320*</text>
<text x="483.70" y="44.41" font-size="9.81" fill="#2a2a2a" stroke="#2a2a2a" stroke-width="0.15" text-anchor="middle" textLength="45.00" lengthAdjust="spacingAndGlyphs">Knockdown</text>
<text x="438.60" y="83.78" font-size="8.61" fill="#fff" stroke="#fff" stroke-width="0.15" text-anchor="middle" textLength="17.00" lengthAdjust="spacingAndGlyphs">1997</text>
<text x="457.90" y="83.78" font-size="8.61" fill="#3a3a3a" stroke="#3a3a3a" stroke-width="0.15" text-anchor="middle" textLength="13.00" lengthAdjust="spacingAndGlyphs">679</text>
<text x="481.30" y="83.78" font-size="8.61" fill="#2a2a2a" stroke="#2a2a2a" stroke-width="0.15" text-anchor="middle" textLength="17.80" lengthAdjust="spacingAndGlyphs">2685</text>
<text x="15.30" y="175.40" font-size="11.55" fill="#111" font-weight="bold" textLength="7.66" lengthAdjust="spacingAndGlyphs" stroke="#111" stroke-width="0.3">D</text>
<line x1="231.60" y1="182.00" x2="231.60" y2="426.00" stroke="#9a9a9a" stroke-width="0.6" stroke-dasharray="0.7 1.1"/>
<text x="222.60" y="190.85" font-size="8.10" fill="#222" stroke="#222" stroke-width="0.15" text-anchor="end" textLength="166.01" lengthAdjust="spacingAndGlyphs">Activation of gene expression by SREBF (SREBP)</text>
<line x1="225.60" y1="188.75" x2="228.40" y2="188.75" stroke="#222" stroke-width="0.8"/>
<rect x="228.40" y="183.65" width="44.30" height="3.50" fill="#c20c2a"/>
<rect x="228.40" y="190.05" width="6.80" height="3.20" fill="#c9c9cd"/>
<text x="222.60" y="207.30" font-size="8.10" fill="#222" stroke="#222" stroke-width="0.15" text-anchor="end" textLength="137.10" lengthAdjust="spacingAndGlyphs">Non-integrin membrane-ECM interactions</text>
<line x1="225.60" y1="205.20" x2="228.40" y2="205.20" stroke="#222" stroke-width="0.8"/>
<rect x="228.40" y="200.10" width="35.60" height="3.50" fill="#c20c2a"/>
<rect x="228.40" y="206.50" width="6.80" height="3.20" fill="#c9c9cd"/>
<text x="222.60" y="223.75" font-size="8.10" fill="#222" stroke="#222" stroke-width="0.15" text-anchor="end" textLength="80.53" lengthAdjust="spacingAndGlyphs">Cholesterol biosynthesis</text>
<line x1="225.60" y1="221.65" x2="228.40" y2="221.65" stroke="#222" stroke-width="0.8"/>
<rect x="228.40" y="216.55" width="26.80" height="3.50" fill="#c20c2a"/>
<rect x="228.40" y="222.95" width="6.60" height="3.20" fill="#c9c9cd"/>
<text x="222.60" y="240.20" font-size="8.10" fill="#222" stroke="#222" stroke-width="0.15" text-anchor="end" textLength="147.47" lengthAdjust="spacingAndGlyphs">Platelet activation, signaling and aggregation</text>
<line x1="225.60" y1="238.10" x2="228.40" y2="238.10" stroke="#222" stroke-width="0.8"/>
<rect x="228.40" y="233.00" width="23.10" height="3.50" fill="#c20c2a"/>
<rect x="228.40" y="239.40" width="16.40" height="3.20" fill="#c9c9cd"/>
<text x="222.60" y="256.65" font-size="8.10" fill="#222" stroke="#222" stroke-width="0.15" text-anchor="end" textLength="71.88" lengthAdjust="spacingAndGlyphs">Platelet degranulation</text>
<line x1="225.60" y1="254.55" x2="228.40" y2="254.55" stroke="#222" stroke-width="0.8"/>
<rect x="228.40" y="249.45" width="21.80" height="3.50" fill="#c20c2a"/>
<rect x="228.40" y="255.85" width="8.10" height="3.20" fill="#c9c9cd"/>
<text x="222.60" y="273.10" font-size="8.10" fill="#222" stroke="#222" stroke-width="0.15" text-anchor="end" textLength="197.01" lengthAdjust="spacingAndGlyphs">Factors involved in MK development and platelet production</text>
<line x1="225.60" y1="271.00" x2="228.40" y2="271.00" stroke="#222" stroke-width="0.8"/>
<rect x="228.40" y="265.90" width="19.30" height="3.50" fill="#c20c2a"/>
<rect x="228.40" y="272.30" width="3.90" height="3.20" fill="#c9c9cd"/>
<text x="222.60" y="289.55" font-size="8.10" fill="#222" stroke="#222" stroke-width="0.15" text-anchor="end" textLength="74.07" lengthAdjust="spacingAndGlyphs">CDC42 GTPase cycle</text>
<line x1="225.60" y1="287.45" x2="228.40" y2="287.45" stroke="#222" stroke-width="0.8"/>
<rect x="228.40" y="282.35" width="19.30" height="3.50" fill="#c20c2a"/>
<rect x="228.40" y="288.75" width="18.30" height="3.20" fill="#c9c9cd"/>
<text x="222.60" y="306.00" font-size="8.10" fill="#222" stroke="#222" stroke-width="0.15" text-anchor="end" textLength="107.37" lengthAdjust="spacingAndGlyphs">MAPK family signaling cascades</text>
<line x1="225.60" y1="303.90" x2="228.40" y2="303.90" stroke="#222" stroke-width="0.8"/>
<rect x="228.40" y="298.80" width="17.20" height="3.50" fill="#c20c2a"/>
<rect x="228.40" y="305.20" width="1.60" height="3.20" fill="#c9c9cd"/>
<text x="222.60" y="322.45" font-size="8.10" fill="#222" stroke="#222" stroke-width="0.15" text-anchor="end" textLength="104.48" lengthAdjust="spacingAndGlyphs">Integrin cell surface interactions</text>
<line x1="225.60" y1="320.35" x2="228.40" y2="320.35" stroke="#222" stroke-width="0.8"/>
<rect x="228.40" y="315.25" width="16.60" height="3.50" fill="#c20c2a"/>
<text x="222.60" y="338.90" font-size="8.10" fill="#222" stroke="#222" stroke-width="0.15" text-anchor="end" textLength="98.99" lengthAdjust="spacingAndGlyphs">PI3K/AKT Signaling in Cancer</text>
<line x1="225.60" y1="336.80" x2="228.40" y2="336.80" stroke="#222" stroke-width="0.8"/>
<rect x="228.40" y="331.70" width="16.60" height="3.50" fill="#c20c2a"/>
<rect x="228.40" y="338.10" width="1.80" height="3.20" fill="#c9c9cd"/>
<text x="222.60" y="355.35" font-size="8.10" fill="#222" stroke="#222" stroke-width="0.15" text-anchor="end" textLength="66.91" lengthAdjust="spacingAndGlyphs">Signaling by ERBB2</text>
<line x1="225.60" y1="353.25" x2="228.40" y2="353.25" stroke="#222" stroke-width="0.8"/>
<rect x="228.40" y="348.15" width="16.50" height="3.50" fill="#c20c2a"/>
<rect x="228.40" y="354.55" width="6.20" height="3.20" fill="#c9c9cd"/>
<text x="222.60" y="371.80" font-size="8.10" fill="#222" stroke="#222" stroke-width="0.15" text-anchor="end" textLength="76.46" lengthAdjust="spacingAndGlyphs">Signaling by NOTCH 1</text>
<line x1="225.60" y1="369.70" x2="228.40" y2="369.70" stroke="#222" stroke-width="0.8"/>
<rect x="228.40" y="364.60" width="16.50" height="3.50" fill="#c20c2a"/>
<rect x="228.40" y="371.00" width="13.10" height="3.20" fill="#c9c9cd"/>
<text x="222.60" y="388.25" font-size="8.10" fill="#222" stroke="#222" stroke-width="0.15" text-anchor="end" textLength="102.71" lengthAdjust="spacingAndGlyphs">Extracellular matrix organization</text>
<line x1="225.60" y1="386.15" x2="228.40" y2="386.15" stroke="#222" stroke-width="0.8"/>
<rect x="228.40" y="381.05" width="16.50" height="3.50" fill="#c20c2a"/>
<text x="222.60" y="404.70" font-size="8.10" fill="#222" stroke="#222" stroke-width="0.15" text-anchor="end" textLength="80.96" lengthAdjust="spacingAndGlyphs">Neutrophil degranulation</text>
<line x1="225.60" y1="402.60" x2="228.40" y2="402.60" stroke="#222" stroke-width="0.8"/>
<rect x="228.40" y="397.50" width="15.40" height="3.50" fill="#c20c2a"/>
<rect x="228.40" y="403.90" width="24.90" height="3.20" fill="#c9c9cd"/>
<text x="222.60" y="421.15" font-size="8.10" fill="#222" stroke="#222" stroke-width="0.15" text-anchor="end" textLength="90.03" lengthAdjust="spacingAndGlyphs">Oncogenic MAPK signaling</text>
<line x1="225.60" y1="419.05" x2="228.40" y2="419.05" stroke="#222" stroke-width="0.8"/>
<rect x="228.40" y="413.95" width="14.30" height="3.50" fill="#c20c2a"/>
<line x1="228.40" y1="181.50" x2="228.40" y2="426.60" stroke="#222" stroke-width="1.1"/>
<line x1="227.90" y1="426.00" x2="289.00" y2="426.00" stroke="#222" stroke-width="1.1"/>
<line x1="228.40" y1="426.00" x2="228.40" y2="428.60" stroke="#222" stroke-width="0.8"/>
<text x="228.40" y="437.89" font-size="7.52" fill="#222" stroke="#222" stroke-width="0.15" text-anchor="middle" textLength="3.84" lengthAdjust="spacingAndGlyphs">0</text>
<line x1="243.15" y1="426.00" x2="243.15" y2="428.60" stroke="#222" stroke-width="0.8"/>
<text x="243.15" y="437.89" font-size="7.52" fill="#222" stroke="#222" stroke-width="0.15" text-anchor="middle" textLength="3.84" lengthAdjust="spacingAndGlyphs">5</text>
<line x1="257.90" y1="426.00" x2="257.90" y2="428.60" stroke="#222" stroke-width="0.8"/>
<text x="257.90" y="437.89" font-size="7.52" fill="#222" stroke="#222" stroke-width="0.15" text-anchor="middle" textLength="7.67" lengthAdjust="spacingAndGlyphs">10</text>
<line x1="272.65" y1="426.00" x2="272.65" y2="428.60" stroke="#222" stroke-width="0.8"/>
<text x="272.65" y="437.89" font-size="7.52" fill="#222" stroke="#222" stroke-width="0.15" text-anchor="middle" textLength="7.67" lengthAdjust="spacingAndGlyphs">15</text>
<line x1="287.40" y1="426.00" x2="287.40" y2="428.60" stroke="#222" stroke-width="0.8"/>
<text x="287.40" y="437.89" font-size="7.52" fill="#222" stroke="#222" stroke-width="0.15" text-anchor="middle" textLength="7.67" lengthAdjust="spacingAndGlyphs">20</text>
<text x="259.00" y="449.23" font-size="7.63" fill="#2a2a2a" text-anchor="middle" font-weight="bold" textLength="17.00" lengthAdjust="spacingAndGlyphs">−LogP</text>
<rect x="257.70" y="406.30" width="7.30" height="3.30" fill="#c8102e"/>
<text x="267.30" y="410.68" font-size="7.19" fill="#333" stroke="#333" stroke-width="0.15" textLength="19.20" lengthAdjust="spacingAndGlyphs">R320*</text>
<rect x="257.70" y="416.50" width="7.30" height="3.30" fill="#c9c9cd"/>
<text x="267.30" y="420.88" font-size="7.19" fill="#333" stroke="#333" stroke-width="0.15" textLength="9.17" lengthAdjust="spacingAndGlyphs">KD</text>
<text x="308.30" y="175.50" font-size="11.55" fill="#111" font-weight="bold" textLength="7.07" lengthAdjust="spacingAndGlyphs" stroke="#111" stroke-width="0.3">E</text>
<rect x="351.50" y="205.30" width="159.40" height="92.90" fill="#fff"/>
<polyline points="351.50,207.30 358.70,208.30 367.30,212.50 372.50,213.50 377.70,215.20 380.30,214.20 383.70,215.20 393.30,219.40 400.20,222.20 410.60,228.60 422.70,236.30 430.00,240.80 440.00,246.40 447.30,250.20 461.20,258.00 471.50,263.70 476.70,264.00 481.90,264.40 485.40,265.40 488.80,266.10 490.60,264.40 493.20,255.40 495.40,250.50 500.10,250.50 502.70,242.40 506.20,233.70 507.90,224.20 510.50,216.40 510.90,208.70" fill="none" stroke="#3f9e42" stroke-width="1.15" stroke-linejoin="round"/>
<line x1="354.50" y1="268.30" x2="354.50" y2="290.30" stroke="#6e6e6e" stroke-width="0.9"/>
<line x1="357.10" y1="268.30" x2="357.10" y2="290.30" stroke="#6e6e6e" stroke-width="0.9"/>
<line x1="358.80" y1="268.30" x2="358.80" y2="290.30" stroke="#6e6e6e" stroke-width="0.9"/>
<line x1="368.40" y1="268.30" x2="368.40" y2="290.30" stroke="#6e6e6e" stroke-width="0.9"/>
<line x1="372.20" y1="268.30" x2="372.20" y2="290.30" stroke="#6e6e6e" stroke-width="0.9"/>
<line x1="373.60" y1="268.30" x2="373.60" y2="290.30" stroke="#6e6e6e" stroke-width="0.9"/>
<line x1="378.20" y1="268.30" x2="378.20" y2="290.30" stroke="#2a2a2a" stroke-width="0.9"/>
<line x1="379.60" y1="268.30" x2="379.60" y2="290.30" stroke="#6e6e6e" stroke-width="0.9"/>
<line x1="382.20" y1="268.30" x2="382.20" y2="290.30" stroke="#2a2a2a" stroke-width="0.9"/>
<line x1="386.50" y1="268.30" x2="386.50" y2="290.30" stroke="#6e6e6e" stroke-width="0.9"/>
<line x1="390.80" y1="268.30" x2="390.80" y2="290.30" stroke="#9a9a9a" stroke-width="0.9"/>
<line x1="391.80" y1="268.30" x2="391.80" y2="290.30" stroke="#6e6e6e" stroke-width="0.9"/>
<line x1="392.80" y1="268.30" x2="392.80" y2="290.30" stroke="#6e6e6e" stroke-width="0.9"/>
<line x1="393.80" y1="268.30" x2="393.80" y2="290.30" stroke="#9a9a9a" stroke-width="0.9"/>
<line x1="395.20" y1="268.30" x2="395.20" y2="290.30" stroke="#6e6e6e" stroke-width="0.9"/>
<line x1="397.80" y1="268.30" x2="397.80" y2="290.30" stroke="#6e6e6e" stroke-width="0.9"/>
<line x1="400.00" y1="268.30" x2="400.00" y2="290.30" stroke="#2a2a2a" stroke-width="0.9"/>
<line x1="403.80" y1="268.30" x2="403.80" y2="290.30" stroke="#6e6e6e" stroke-width="0.9"/>
<line x1="419.40" y1="268.30" x2="419.40" y2="290.30" stroke="#2a2a2a" stroke-width="0.9"/>
<line x1="421.50" y1="268.30" x2="421.50" y2="290.30" stroke="#6e6e6e" stroke-width="0.9"/>
<line x1="429.80" y1="268.30" x2="429.80" y2="290.30" stroke="#6e6e6e" stroke-width="0.9"/>
<line x1="441.80" y1="268.30" x2="441.80" y2="290.30" stroke="#6e6e6e" stroke-width="0.9"/>
<line x1="443.50" y1="268.30" x2="443.50" y2="290.30" stroke="#6e6e6e" stroke-width="0.9"/>
<line x1="447.20" y1="268.30" x2="447.20" y2="290.30" stroke="#6e6e6e" stroke-width="0.9"/>
<line x1="452.80" y1="268.30" x2="452.80" y2="290.30" stroke="#6e6e6e" stroke-width="0.9"/>
<line x1="454.40" y1="268.30" x2="454.40" y2="290.30" stroke="#6e6e6e" stroke-width="0.9"/>
<line x1="457.50" y1="268.30" x2="457.50" y2="290.30" stroke="#6e6e6e" stroke-width="0.9"/>
<line x1="459.00" y1="268.30" x2="459.00" y2="290.30" stroke="#6e6e6e" stroke-width="0.9"/>
<line x1="462.10" y1="268.30" x2="462.10" y2="290.30" stroke="#6e6e6e" stroke-width="0.9"/>
<line x1="465.30" y1="268.30" x2="465.30" y2="290.30" stroke="#6e6e6e" stroke-width="0.9"/>
<line x1="468.40" y1="268.30" x2="468.40" y2="290.30" stroke="#6e6e6e" stroke-width="0.9"/>
<line x1="470.90" y1="268.30" x2="470.90" y2="290.30" stroke="#6e6e6e" stroke-width="0.9"/>
<line x1="474.60" y1="268.30" x2="474.60" y2="290.30" stroke="#6e6e6e" stroke-width="0.9"/>
<line x1="477.70" y1="268.30" x2="477.70" y2="290.30" stroke="#6e6e6e" stroke-width="0.9"/>
<line x1="480.20" y1="268.30" x2="480.20" y2="290.30" stroke="#6e6e6e" stroke-width="0.9"/>
<line x1="482.40" y1="268.30" x2="482.40" y2="290.30" stroke="#6e6e6e" stroke-width="0.9"/>
<line x1="487.10" y1="268.30" x2="487.10" y2="290.30" stroke="#6e6e6e" stroke-width="0.9"/>
<line x1="488.60" y1="268.30" x2="488.60" y2="290.30" stroke="#6e6e6e" stroke-width="0.9"/>
<line x1="491.70" y1="268.30" x2="491.70" y2="290.30" stroke="#2a2a2a" stroke-width="0.9"/>
<line x1="493.30" y1="268.30" x2="493.30" y2="290.30" stroke="#2a2a2a" stroke-width="0.9"/>
<line x1="494.90" y1="268.30" x2="494.90" y2="290.30" stroke="#2a2a2a" stroke-width="0.9"/>
<line x1="496.40" y1="268.30" x2="496.40" y2="290.30" stroke="#6e6e6e" stroke-width="0.9"/>
<line x1="498.90" y1="268.30" x2="498.90" y2="290.30" stroke="#6e6e6e" stroke-width="0.9"/>
<line x1="502.00" y1="268.30" x2="502.00" y2="290.30" stroke="#6e6e6e" stroke-width="0.9"/>
<line x1="504.20" y1="268.30" x2="504.20" y2="290.30" stroke="#6e6e6e" stroke-width="0.9"/>
<line x1="507.30" y1="268.30" x2="507.30" y2="290.30" stroke="#6e6e6e" stroke-width="0.9"/>
<defs><linearGradient id="gg1" x1="0" x2="1" y1="0" y2="0"><stop offset="0" stop-color="#ec9a9a"/><stop offset="0.1" stop-color="#f5c6c6"/><stop offset="0.25" stop-color="#fce9e9"/><stop offset="0.42" stop-color="#ffffff"/><stop offset="0.6" stop-color="#fbfbfe"/><stop offset="0.76" stop-color="#e2e4f4"/><stop offset="0.9" stop-color="#aeb3de"/><stop offset="1" stop-color="#6a72c0"/></linearGradient></defs>
<rect x="351.50" y="290.30" width="159.40" height="7.90" fill="url(#gg1)"/>
<line x1="404.63" y1="290.30" x2="404.63" y2="298.20" stroke="#d8d8d8" stroke-width="0.5"/>
<line x1="457.77" y1="290.30" x2="457.77" y2="298.20" stroke="#d8d8d8" stroke-width="0.5"/>
<text x="353.10" y="296.91" font-size="6.87" fill="#222" stroke="#222" stroke-width="0.15" textLength="18.50" lengthAdjust="spacingAndGlyphs">R320*</text>
<text x="504.60" y="296.91" font-size="6.87" fill="#222" stroke="#222" stroke-width="0.15" text-anchor="end" textLength="9.60" lengthAdjust="spacingAndGlyphs">WT</text>
<rect x="351.50" y="205.30" width="159.40" height="92.90" fill="none" stroke="#444" stroke-width="0.7"/>
<line x1="351.50" y1="205.30" x2="510.90" y2="205.30" stroke="#333" stroke-width="1.1"/>
<line x1="351.50" y1="268.30" x2="510.90" y2="268.30" stroke="#666" stroke-width="0.7"/>
<line x1="351.50" y1="290.30" x2="510.90" y2="290.30" stroke="#8a8a8a" stroke-width="0.9"/>
<line x1="351.50" y1="298.20" x2="510.90" y2="298.20" stroke="#333" stroke-width="1.3"/>
<line x1="351.50" y1="205.30" x2="351.50" y2="298.20" stroke="#222" stroke-width="1.0"/>
<line x1="349.00" y1="206.80" x2="351.50" y2="206.80" stroke="#222" stroke-width="0.8"/>
<text x="345.60" y="209.38" font-size="7.19" fill="#222" stroke="#222" stroke-width="0.15" text-anchor="end" textLength="9.17" lengthAdjust="spacingAndGlyphs">0.0</text>
<line x1="349.00" y1="216.78" x2="351.50" y2="216.78" stroke="#222" stroke-width="0.8"/>
<text x="345.60" y="219.36" font-size="7.19" fill="#222" stroke="#222" stroke-width="0.15" text-anchor="end" textLength="13.03" lengthAdjust="spacingAndGlyphs">−0.1</text>
<line x1="349.00" y1="226.76" x2="351.50" y2="226.76" stroke="#222" stroke-width="0.8"/>
<text x="345.60" y="229.34" font-size="7.19" fill="#222" stroke="#222" stroke-width="0.15" text-anchor="end" textLength="13.03" lengthAdjust="spacingAndGlyphs">−0.2</text>
<line x1="349.00" y1="236.74" x2="351.50" y2="236.74" stroke="#222" stroke-width="0.8"/>
<text x="345.60" y="239.32" font-size="7.19" fill="#222" stroke="#222" stroke-width="0.15" text-anchor="end" textLength="13.03" lengthAdjust="spacingAndGlyphs">−0.3</text>
<line x1="349.00" y1="246.72" x2="351.50" y2="246.72" stroke="#222" stroke-width="0.8"/>
<text x="345.60" y="249.30" font-size="7.19" fill="#222" stroke="#222" stroke-width="0.15" text-anchor="end" textLength="13.03" lengthAdjust="spacingAndGlyphs">−0.4</text>
<line x1="349.00" y1="256.70" x2="351.50" y2="256.70" stroke="#222" stroke-width="0.8"/>
<text x="345.60" y="259.28" font-size="7.19" fill="#222" stroke="#222" stroke-width="0.15" text-anchor="end" textLength="13.03" lengthAdjust="spacingAndGlyphs">−0.5</text>
<line x1="349.00" y1="266.68" x2="351.50" y2="266.68" stroke="#222" stroke-width="0.8"/>
<text x="345.60" y="269.26" font-size="7.19" fill="#222" stroke="#222" stroke-width="0.15" text-anchor="end" textLength="13.03" lengthAdjust="spacingAndGlyphs">−0.6</text>
<text x="353.80" y="267.32" font-size="6.76" fill="#222" stroke="#222" stroke-width="0.15" textLength="74.40" lengthAdjust="spacingAndGlyphs">Normalized ES: −1.7433</text>
<text x="431.60" y="189.39" font-size="9.48" fill="#222" stroke="#222" stroke-width="0.15" text-anchor="middle" textLength="160.80" lengthAdjust="spacingAndGlyphs">RUNX1 Regulates Genes Involved in MK</text>
<text x="431.00" y="199.99" font-size="9.48" fill="#222" stroke="#222" stroke-width="0.15" text-anchor="middle" textLength="138.10" lengthAdjust="spacingAndGlyphs">Differentiation and Platelet Function</text>
<text x="326.50" y="238.80" font-size="8.28" fill="#222" stroke="#222" stroke-width="0.15" text-anchor="middle" textLength="62.50" lengthAdjust="spacingAndGlyphs" transform="rotate(-90 326.50 238.80)">Enrichment score (ES)</text>
<rect x="351.70" y="340.40" width="159.40" height="92.40" fill="#fff"/>
<polyline points="351.50,342.60 359.80,344.70 371.00,351.10 375.40,350.40 391.00,357.70 399.60,358.60 411.50,365.40 423.10,372.30 434.60,379.20 446.20,387.30 457.70,395.40 466.90,400.50 472.70,401.80 475.00,398.80 479.60,396.50 484.20,395.80 488.80,397.70 492.30,391.90 495.80,387.30 499.70,385.00 501.50,376.90 505.00,365.40 507.30,348.10 510.30,343.50" fill="none" stroke="#3f9e42" stroke-width="1.15" stroke-linejoin="round"/>
<line x1="354.50" y1="403.60" x2="354.50" y2="425.30" stroke="#6e6e6e" stroke-width="0.9"/>
<line x1="357.10" y1="403.60" x2="357.10" y2="425.30" stroke="#6e6e6e" stroke-width="0.9"/>
<line x1="358.80" y1="403.60" x2="358.80" y2="425.30" stroke="#6e6e6e" stroke-width="0.9"/>
<line x1="371.80" y1="403.60" x2="371.80" y2="425.30" stroke="#2a2a2a" stroke-width="0.9"/>
<line x1="373.60" y1="403.60" x2="373.60" y2="425.30" stroke="#6e6e6e" stroke-width="0.9"/>
<line x1="377.90" y1="403.60" x2="377.90" y2="425.30" stroke="#6e6e6e" stroke-width="0.9"/>
<line x1="381.30" y1="403.60" x2="381.30" y2="425.30" stroke="#6e6e6e" stroke-width="0.9"/>
<line x1="385.70" y1="403.60" x2="385.70" y2="425.30" stroke="#6e6e6e" stroke-width="0.9"/>
<line x1="390.30" y1="403.60" x2="390.30" y2="425.30" stroke="#9a9a9a" stroke-width="0.9"/>
<line x1="392.10" y1="403.60" x2="392.10" y2="425.30" stroke="#6e6e6e" stroke-width="0.9"/>
<line x1="393.80" y1="403.60" x2="393.80" y2="425.30" stroke="#6e6e6e" stroke-width="0.9"/>
<line x1="395.50" y1="403.60" x2="395.50" y2="425.30" stroke="#6e6e6e" stroke-width="0.9"/>
<line x1="396.90" y1="403.60" x2="396.90" y2="425.30" stroke="#2a2a2a" stroke-width="0.9"/>
<line x1="399.00" y1="403.60" x2="399.00" y2="425.30" stroke="#6e6e6e" stroke-width="0.9"/>
<line x1="400.40" y1="403.60" x2="400.40" y2="425.30" stroke="#6e6e6e" stroke-width="0.9"/>
<line x1="403.00" y1="403.60" x2="403.00" y2="425.30" stroke="#6e6e6e" stroke-width="0.9"/>
<line x1="404.70" y1="403.60" x2="404.70" y2="425.30" stroke="#2a2a2a" stroke-width="0.9"/>
<line x1="419.40" y1="403.60" x2="419.40" y2="425.30" stroke="#2a2a2a" stroke-width="0.9"/>
<line x1="426.30" y1="403.60" x2="426.30" y2="425.30" stroke="#6e6e6e" stroke-width="0.9"/>
<line x1="429.80" y1="403.60" x2="429.80" y2="425.30" stroke="#6e6e6e" stroke-width="0.9"/>
<line x1="433.30" y1="403.60" x2="433.30" y2="425.30" stroke="#6e6e6e" stroke-width="0.9"/>
<line x1="443.00" y1="403.60" x2="443.00" y2="425.30" stroke="#6e6e6e" stroke-width="0.9"/>
<line x1="452.80" y1="403.60" x2="452.80" y2="425.30" stroke="#6e6e6e" stroke-width="0.9"/>
<line x1="454.40" y1="403.60" x2="454.40" y2="425.30" stroke="#6e6e6e" stroke-width="0.9"/>
<line x1="455.90" y1="403.60" x2="455.90" y2="425.30" stroke="#6e6e6e" stroke-width="0.9"/>
<line x1="457.50" y1="403.60" x2="457.50" y2="425.30" stroke="#6e6e6e" stroke-width="0.9"/>
<line x1="459.00" y1="403.60" x2="459.00" y2="425.30" stroke="#6e6e6e" stroke-width="0.9"/>
<line x1="462.10" y1="403.60" x2="462.10" y2="425.30" stroke="#6e6e6e" stroke-width="0.9"/>
<line x1="463.70" y1="403.60" x2="463.70" y2="425.30" stroke="#6e6e6e" stroke-width="0.9"/>
<line x1="465.30" y1="403.60" x2="465.30" y2="425.30" stroke="#6e6e6e" stroke-width="0.9"/>
<line x1="467.80" y1="403.60" x2="467.80" y2="425.30" stroke="#6e6e6e" stroke-width="0.9"/>
<line x1="471.50" y1="403.60" x2="471.50" y2="425.30" stroke="#6e6e6e" stroke-width="0.9"/>
<line x1="473.10" y1="403.60" x2="473.10" y2="425.30" stroke="#2a2a2a" stroke-width="0.9"/>
<line x1="474.60" y1="403.60" x2="474.60" y2="425.30" stroke="#2a2a2a" stroke-width="0.9"/>
<line x1="477.70" y1="403.60" x2="477.70" y2="425.30" stroke="#6e6e6e" stroke-width="0.9"/>
<line x1="480.20" y1="403.60" x2="480.20" y2="425.30" stroke="#6e6e6e" stroke-width="0.9"/>
<line x1="482.40" y1="403.60" x2="482.40" y2="425.30" stroke="#6e6e6e" stroke-width="0.9"/>
<line x1="487.10" y1="403.60" x2="487.10" y2="425.30" stroke="#6e6e6e" stroke-width="0.9"/>
<line x1="490.20" y1="403.60" x2="490.20" y2="425.30" stroke="#6e6e6e" stroke-width="0.9"/>
<line x1="493.30" y1="403.60" x2="493.30" y2="425.30" stroke="#6e6e6e" stroke-width="0.9"/>
<line x1="496.40" y1="403.60" x2="496.40" y2="425.30" stroke="#6e6e6e" stroke-width="0.9"/>
<line x1="498.90" y1="403.60" x2="498.90" y2="425.30" stroke="#6e6e6e" stroke-width="0.9"/>
<line x1="502.00" y1="403.60" x2="502.00" y2="425.30" stroke="#6e6e6e" stroke-width="0.9"/>
<line x1="503.30" y1="403.60" x2="503.30" y2="425.30" stroke="#6e6e6e" stroke-width="0.9"/>
<line x1="504.80" y1="403.60" x2="504.80" y2="425.30" stroke="#6e6e6e" stroke-width="0.9"/>
<line x1="507.30" y1="403.60" x2="507.30" y2="425.30" stroke="#2a2a2a" stroke-width="0.9"/>
<defs><linearGradient id="gg2" x1="0" x2="1" y1="0" y2="0"><stop offset="0" stop-color="#ec9a9a"/><stop offset="0.1" stop-color="#f5c6c6"/><stop offset="0.25" stop-color="#fce9e9"/><stop offset="0.42" stop-color="#ffffff"/><stop offset="0.6" stop-color="#fbfbfe"/><stop offset="0.76" stop-color="#e2e4f4"/><stop offset="0.9" stop-color="#aeb3de"/><stop offset="1" stop-color="#6a72c0"/></linearGradient></defs>
<rect x="351.70" y="425.30" width="159.40" height="7.50" fill="url(#gg2)"/>
<line x1="404.83" y1="425.30" x2="404.83" y2="432.80" stroke="#d8d8d8" stroke-width="0.5"/>
<line x1="457.97" y1="425.30" x2="457.97" y2="432.80" stroke="#d8d8d8" stroke-width="0.5"/>
<text x="353.30" y="431.71" font-size="6.87" fill="#222" stroke="#222" stroke-width="0.15" textLength="18.50" lengthAdjust="spacingAndGlyphs">R320*</text>
<text x="504.80" y="431.71" font-size="6.87" fill="#222" stroke="#222" stroke-width="0.15" text-anchor="end" textLength="9.60" lengthAdjust="spacingAndGlyphs">WT</text>
<rect x="351.70" y="340.40" width="159.40" height="92.40" fill="none" stroke="#444" stroke-width="0.7"/>
<line x1="351.70" y1="340.40" x2="511.10" y2="340.40" stroke="#333" stroke-width="1.1"/>
<line x1="351.70" y1="403.60" x2="511.10" y2="403.60" stroke="#666" stroke-width="0.7"/>
<line x1="351.70" y1="425.30" x2="511.10" y2="425.30" stroke="#8a8a8a" stroke-width="0.9"/>
<line x1="351.70" y1="432.80" x2="511.10" y2="432.80" stroke="#333" stroke-width="1.3"/>
<line x1="351.70" y1="340.40" x2="351.70" y2="432.80" stroke="#222" stroke-width="1.0"/>
<line x1="349.20" y1="342.60" x2="351.70" y2="342.60" stroke="#222" stroke-width="0.8"/>
<text x="345.60" y="345.18" font-size="7.19" fill="#222" stroke="#222" stroke-width="0.15" text-anchor="end" textLength="9.17" lengthAdjust="spacingAndGlyphs">0.0</text>
<line x1="349.20" y1="353.30" x2="351.70" y2="353.30" stroke="#222" stroke-width="0.8"/>
<text x="345.60" y="355.88" font-size="7.19" fill="#222" stroke="#222" stroke-width="0.15" text-anchor="end" textLength="13.03" lengthAdjust="spacingAndGlyphs">−0.1</text>
<line x1="349.20" y1="364.00" x2="351.70" y2="364.00" stroke="#222" stroke-width="0.8"/>
<text x="345.60" y="366.58" font-size="7.19" fill="#222" stroke="#222" stroke-width="0.15" text-anchor="end" textLength="13.03" lengthAdjust="spacingAndGlyphs">−0.2</text>
<line x1="349.20" y1="374.70" x2="351.70" y2="374.70" stroke="#222" stroke-width="0.8"/>
<text x="345.60" y="377.28" font-size="7.19" fill="#222" stroke="#222" stroke-width="0.15" text-anchor="end" textLength="13.03" lengthAdjust="spacingAndGlyphs">−0.3</text>
<line x1="349.20" y1="385.40" x2="351.70" y2="385.40" stroke="#222" stroke-width="0.8"/>
<text x="345.60" y="387.98" font-size="7.19" fill="#222" stroke="#222" stroke-width="0.15" text-anchor="end" textLength="13.03" lengthAdjust="spacingAndGlyphs">−0.4</text>
<line x1="349.20" y1="396.10" x2="351.70" y2="396.10" stroke="#222" stroke-width="0.8"/>
<text x="345.60" y="398.68" font-size="7.19" fill="#222" stroke="#222" stroke-width="0.15" text-anchor="end" textLength="13.03" lengthAdjust="spacingAndGlyphs">−0.5</text>
<text x="353.80" y="401.92" font-size="6.76" fill="#222" stroke="#222" stroke-width="0.15" textLength="75.00" lengthAdjust="spacingAndGlyphs">Normalized ES: −1.6641</text>
<text x="430.85" y="323.09" font-size="9.48" fill="#222" stroke="#222" stroke-width="0.15" text-anchor="middle" textLength="162.30" lengthAdjust="spacingAndGlyphs">RUNX1 Regulates Transcription of Genes</text>
<text x="430.75" y="334.69" font-size="9.48" fill="#222" stroke="#222" stroke-width="0.15" text-anchor="middle" textLength="138.50" lengthAdjust="spacingAndGlyphs">Involved in Differentiation of HSCS</text>
<text x="326.50" y="374.00" font-size="8.28" fill="#222" stroke="#222" stroke-width="0.15" text-anchor="middle" textLength="62.50" lengthAdjust="spacingAndGlyphs" transform="rotate(-90 326.50 374.00)">Enrichment score (ES)</text>
<text x="6.30" y="468.70" font-size="11.55" fill="#111" font-weight="bold" textLength="6.47" lengthAdjust="spacingAndGlyphs" stroke="#111" stroke-width="0.3">F</text>
<rect x="35.20" y="489.50" width="157.20" height="92.20" fill="#fff"/>
<polyline points="35.50,551.10 37.00,548.00 38.10,540.00 40.00,530.00 43.30,517.50 45.90,515.80 48.50,505.40 51.90,503.70 54.00,500.00 58.00,496.40 61.40,497.60 63.00,496.00 66.60,492.40 72.70,492.40 77.90,492.40 82.30,493.70 84.80,495.00 95.40,501.20 111.70,512.70 128.10,524.10 144.40,533.90 160.80,543.70 177.10,548.00 191.80,549.60" fill="none" stroke="#3f9e42" stroke-width="1.15" stroke-linejoin="round"/>
<line x1="36.90" y1="552.30" x2="36.90" y2="573.20" stroke="#6e6e6e" stroke-width="0.9"/>
<line x1="38.70" y1="552.30" x2="38.70" y2="573.20" stroke="#6e6e6e" stroke-width="0.9"/>
<line x1="41.20" y1="552.30" x2="41.20" y2="573.20" stroke="#6e6e6e" stroke-width="0.9"/>
<line x1="42.10" y1="552.30" x2="42.10" y2="573.20" stroke="#6e6e6e" stroke-width="0.9"/>
<line x1="45.60" y1="552.30" x2="45.60" y2="573.20" stroke="#6e6e6e" stroke-width="0.9"/>
<line x1="49.00" y1="552.30" x2="49.00" y2="573.20" stroke="#6e6e6e" stroke-width="0.9"/>
<line x1="51.60" y1="552.30" x2="51.60" y2="573.20" stroke="#6e6e6e" stroke-width="0.9"/>
<line x1="53.40" y1="552.30" x2="53.40" y2="573.20" stroke="#6e6e6e" stroke-width="0.9"/>
<line x1="55.10" y1="552.30" x2="55.10" y2="573.20" stroke="#6e6e6e" stroke-width="0.9"/>
<line x1="57.70" y1="552.30" x2="57.70" y2="573.20" stroke="#6e6e6e" stroke-width="0.9"/>
<line x1="62.00" y1="552.30" x2="62.00" y2="573.20" stroke="#6e6e6e" stroke-width="0.9"/>
<line x1="64.60" y1="552.30" x2="64.60" y2="573.20" stroke="#2a2a2a" stroke-width="0.9"/>
<line x1="65.50" y1="552.30" x2="65.50" y2="573.20" stroke="#6e6e6e" stroke-width="0.9"/>
<line x1="67.20" y1="552.30" x2="67.20" y2="573.20" stroke="#6e6e6e" stroke-width="0.9"/>
<line x1="68.90" y1="552.30" x2="68.90" y2="573.20" stroke="#6e6e6e" stroke-width="0.9"/>
<line x1="72.40" y1="552.30" x2="72.40" y2="573.20" stroke="#6e6e6e" stroke-width="0.9"/>
<line x1="74.10" y1="552.30" x2="74.10" y2="573.20" stroke="#6e6e6e" stroke-width="0.9"/>
<line x1="75.90" y1="552.30" x2="75.90" y2="573.20" stroke="#6e6e6e" stroke-width="0.9"/>
<line x1="78.50" y1="552.30" x2="78.50" y2="573.20" stroke="#6e6e6e" stroke-width="0.9"/>
<line x1="81.10" y1="552.30" x2="81.10" y2="573.20" stroke="#6e6e6e" stroke-width="0.9"/>
<line x1="83.70" y1="552.30" x2="83.70" y2="573.20" stroke="#6e6e6e" stroke-width="0.9"/>
<line x1="85.40" y1="552.30" x2="85.40" y2="573.20" stroke="#6e6e6e" stroke-width="0.9"/>
<line x1="89.70" y1="552.30" x2="89.70" y2="573.20" stroke="#2a2a2a" stroke-width="0.9"/>
<line x1="137.30" y1="552.30" x2="137.30" y2="573.20" stroke="#6e6e6e" stroke-width="0.9"/>
<line x1="138.60" y1="552.30" x2="138.60" y2="573.20" stroke="#6e6e6e" stroke-width="0.9"/>
<line x1="140.80" y1="552.30" x2="140.80" y2="573.20" stroke="#6e6e6e" stroke-width="0.9"/>
<line x1="144.60" y1="552.30" x2="144.60" y2="573.20" stroke="#6e6e6e" stroke-width="0.9"/>
<line x1="148.90" y1="552.30" x2="148.90" y2="573.20" stroke="#6e6e6e" stroke-width="0.9"/>
<line x1="156.40" y1="552.30" x2="156.40" y2="573.20" stroke="#6e6e6e" stroke-width="0.9"/>
<line x1="161.90" y1="552.30" x2="161.90" y2="573.20" stroke="#6e6e6e" stroke-width="0.9"/>
<line x1="166.20" y1="552.30" x2="166.20" y2="573.20" stroke="#6e6e6e" stroke-width="0.9"/>
<line x1="169.70" y1="552.30" x2="169.70" y2="573.20" stroke="#6e6e6e" stroke-width="0.9"/>
<line x1="171.40" y1="552.30" x2="171.40" y2="573.20" stroke="#6e6e6e" stroke-width="0.9"/>
<line x1="176.60" y1="552.30" x2="176.60" y2="573.20" stroke="#6e6e6e" stroke-width="0.9"/>
<defs><linearGradient id="gg3" x1="0" x2="1" y1="0" y2="0"><stop offset="0" stop-color="#ec9a9a"/><stop offset="0.1" stop-color="#f5c6c6"/><stop offset="0.25" stop-color="#fce9e9"/><stop offset="0.42" stop-color="#ffffff"/><stop offset="0.6" stop-color="#fbfbfe"/><stop offset="0.76" stop-color="#e2e4f4"/><stop offset="0.9" stop-color="#aeb3de"/><stop offset="1" stop-color="#6a72c0"/></linearGradient></defs>
<rect x="35.20" y="573.20" width="157.20" height="8.50" fill="url(#gg3)"/>
<line x1="87.60" y1="573.20" x2="87.60" y2="581.70" stroke="#d8d8d8" stroke-width="0.5"/>
<line x1="140.00" y1="573.20" x2="140.00" y2="581.70" stroke="#d8d8d8" stroke-width="0.5"/>
<text x="36.80" y="580.11" font-size="6.87" fill="#222" stroke="#222" stroke-width="0.15" textLength="18.50" lengthAdjust="spacingAndGlyphs">R320*</text>
<text x="186.10" y="580.11" font-size="6.87" fill="#222" stroke="#222" stroke-width="0.15" text-anchor="end" textLength="9.60" lengthAdjust="spacingAndGlyphs">WT</text>
<rect x="35.20" y="489.50" width="157.20" height="92.20" fill="none" stroke="#444" stroke-width="0.7"/>
<line x1="35.20" y1="489.50" x2="192.40" y2="489.50" stroke="#333" stroke-width="1.1"/>
<line x1="35.20" y1="552.30" x2="192.40" y2="552.30" stroke="#666" stroke-width="0.7"/>
<line x1="35.20" y1="573.20" x2="192.40" y2="573.20" stroke="#8a8a8a" stroke-width="0.9"/>
<line x1="35.20" y1="581.70" x2="192.40" y2="581.70" stroke="#333" stroke-width="1.3"/>
<line x1="35.20" y1="489.50" x2="35.20" y2="581.70" stroke="#222" stroke-width="1.0"/>
<line x1="32.70" y1="551.10" x2="35.20" y2="551.10" stroke="#222" stroke-width="0.8"/>
<text x="29.00" y="553.68" font-size="7.19" fill="#222" stroke="#222" stroke-width="0.15" text-anchor="end" textLength="9.17" lengthAdjust="spacingAndGlyphs">0.0</text>
<line x1="32.70" y1="540.30" x2="35.20" y2="540.30" stroke="#222" stroke-width="0.8"/>
<text x="29.00" y="542.88" font-size="7.19" fill="#222" stroke="#222" stroke-width="0.15" text-anchor="end" textLength="9.17" lengthAdjust="spacingAndGlyphs">0.1</text>
<line x1="32.70" y1="529.50" x2="35.20" y2="529.50" stroke="#222" stroke-width="0.8"/>
<text x="29.00" y="532.08" font-size="7.19" fill="#222" stroke="#222" stroke-width="0.15" text-anchor="end" textLength="9.17" lengthAdjust="spacingAndGlyphs">0.2</text>
<line x1="32.70" y1="518.70" x2="35.20" y2="518.70" stroke="#222" stroke-width="0.8"/>
<text x="29.00" y="521.28" font-size="7.19" fill="#222" stroke="#222" stroke-width="0.15" text-anchor="end" textLength="9.17" lengthAdjust="spacingAndGlyphs">0.3</text>
<line x1="32.70" y1="507.90" x2="35.20" y2="507.90" stroke="#222" stroke-width="0.8"/>
<text x="29.00" y="510.48" font-size="7.19" fill="#222" stroke="#222" stroke-width="0.15" text-anchor="end" textLength="9.17" lengthAdjust="spacingAndGlyphs">0.4</text>
<line x1="32.70" y1="497.10" x2="35.20" y2="497.10" stroke="#222" stroke-width="0.8"/>
<text x="29.00" y="499.68" font-size="7.19" fill="#222" stroke="#222" stroke-width="0.15" text-anchor="end" textLength="9.17" lengthAdjust="spacingAndGlyphs">0.5</text>
<text x="190.20" y="497.82" font-size="6.76" fill="#222" stroke="#222" stroke-width="0.15" text-anchor="end" textLength="71.30" lengthAdjust="spacingAndGlyphs">Normalized ES: 1.7338</text>
<text x="114.20" y="478.79" font-size="9.48" fill="#222" stroke="#222" stroke-width="0.15" text-anchor="middle" textLength="121.20" lengthAdjust="spacingAndGlyphs">Schuhmacher MYC Targets Up</text>
<text x="13.60" y="520.90" font-size="8.28" fill="#222" stroke="#222" stroke-width="0.15" text-anchor="middle" textLength="62.50" lengthAdjust="spacingAndGlyphs" transform="rotate(-90 13.60 520.90)">Enrichment score (ES)</text>
<rect x="229.80" y="489.20" width="157.70" height="92.50" fill="#fff"/>
<polyline points="229.80,544.80 232.00,529.20 234.60,525.80 237.20,508.50 238.90,504.10 243.30,503.30 245.30,501.50 247.60,494.30 251.90,495.00 254.50,495.50 257.10,493.20 265.80,491.50 274.40,493.70 283.10,498.90 290.60,503.30 301.20,510.70 311.70,518.10 322.30,524.40 335.00,530.80 349.80,537.10 353.00,537.50 364.60,542.40 375.20,547.30 380.50,550.20 382.60,547.30 384.10,542.40 385.80,543.00 387.50,543.50" fill="none" stroke="#3f9e42" stroke-width="1.15" stroke-linejoin="round"/>
<line x1="231.00" y1="551.90" x2="231.00" y2="573.10" stroke="#6e6e6e" stroke-width="0.9"/>
<line x1="233.70" y1="551.90" x2="233.70" y2="573.10" stroke="#6e6e6e" stroke-width="0.9"/>
<line x1="236.20" y1="551.90" x2="236.20" y2="573.10" stroke="#2a2a2a" stroke-width="0.9"/>
<line x1="238.00" y1="551.90" x2="238.00" y2="573.10" stroke="#6e6e6e" stroke-width="0.9"/>
<line x1="241.40" y1="551.90" x2="241.40" y2="573.10" stroke="#6e6e6e" stroke-width="0.9"/>
<line x1="243.20" y1="551.90" x2="243.20" y2="573.10" stroke="#6e6e6e" stroke-width="0.9"/>
<line x1="245.40" y1="551.90" x2="245.40" y2="573.10" stroke="#2a2a2a" stroke-width="0.9"/>
<line x1="246.60" y1="551.90" x2="246.60" y2="573.10" stroke="#6e6e6e" stroke-width="0.9"/>
<line x1="250.10" y1="551.90" x2="250.10" y2="573.10" stroke="#6e6e6e" stroke-width="0.9"/>
<line x1="251.80" y1="551.90" x2="251.80" y2="573.10" stroke="#6e6e6e" stroke-width="0.9"/>
<line x1="255.30" y1="551.90" x2="255.30" y2="573.10" stroke="#6e6e6e" stroke-width="0.9"/>
<line x1="256.50" y1="551.90" x2="256.50" y2="573.10" stroke="#2a2a2a" stroke-width="0.9"/>
<line x1="258.70" y1="551.90" x2="258.70" y2="573.10" stroke="#6e6e6e" stroke-width="0.9"/>
<line x1="261.30" y1="551.90" x2="261.30" y2="573.10" stroke="#6e6e6e" stroke-width="0.9"/>
<line x1="263.10" y1="551.90" x2="263.10" y2="573.10" stroke="#2a2a2a" stroke-width="0.9"/>
<line x1="264.80" y1="551.90" x2="264.80" y2="573.10" stroke="#6e6e6e" stroke-width="0.9"/>
<line x1="267.40" y1="551.90" x2="267.40" y2="573.10" stroke="#6e6e6e" stroke-width="0.9"/>
<line x1="270.00" y1="551.90" x2="270.00" y2="573.10" stroke="#6e6e6e" stroke-width="0.9"/>
<line x1="272.60" y1="551.90" x2="272.60" y2="573.10" stroke="#6e6e6e" stroke-width="0.9"/>
<line x1="275.20" y1="551.90" x2="275.20" y2="573.10" stroke="#6e6e6e" stroke-width="0.9"/>
<line x1="276.90" y1="551.90" x2="276.90" y2="573.10" stroke="#6e6e6e" stroke-width="0.9"/>
<line x1="279.00" y1="551.90" x2="279.00" y2="573.10" stroke="#6e6e6e" stroke-width="0.9"/>
<line x1="283.80" y1="551.90" x2="283.80" y2="573.10" stroke="#2a2a2a" stroke-width="0.9"/>
<line x1="331.80" y1="551.90" x2="331.80" y2="573.10" stroke="#6e6e6e" stroke-width="0.9"/>
<line x1="333.90" y1="551.90" x2="333.90" y2="573.10" stroke="#6e6e6e" stroke-width="0.9"/>
<line x1="336.70" y1="551.90" x2="336.70" y2="573.10" stroke="#6e6e6e" stroke-width="0.9"/>
<line x1="340.30" y1="551.90" x2="340.30" y2="573.10" stroke="#6e6e6e" stroke-width="0.9"/>
<line x1="349.80" y1="551.90" x2="349.80" y2="573.10" stroke="#6e6e6e" stroke-width="0.9"/>
<line x1="351.90" y1="551.90" x2="351.90" y2="573.10" stroke="#6e6e6e" stroke-width="0.9"/>
<line x1="358.30" y1="551.90" x2="358.30" y2="573.10" stroke="#6e6e6e" stroke-width="0.9"/>
<line x1="361.40" y1="551.90" x2="361.40" y2="573.10" stroke="#6e6e6e" stroke-width="0.9"/>
<line x1="380.50" y1="551.90" x2="380.50" y2="573.10" stroke="#6e6e6e" stroke-width="0.9"/>
<line x1="382.60" y1="551.90" x2="382.60" y2="573.10" stroke="#6e6e6e" stroke-width="0.9"/>
<line x1="384.70" y1="551.90" x2="384.70" y2="573.10" stroke="#6e6e6e" stroke-width="0.9"/>
<defs><linearGradient id="gg4" x1="0" x2="1" y1="0" y2="0"><stop offset="0" stop-color="#ec9a9a"/><stop offset="0.1" stop-color="#f5c6c6"/><stop offset="0.25" stop-color="#fce9e9"/><stop offset="0.42" stop-color="#ffffff"/><stop offset="0.6" stop-color="#fbfbfe"/><stop offset="0.76" stop-color="#e2e4f4"/><stop offset="0.9" stop-color="#aeb3de"/><stop offset="1" stop-color="#6a72c0"/></linearGradient></defs>
<rect x="229.80" y="573.10" width="157.70" height="8.60" fill="url(#gg4)"/>
<line x1="282.37" y1="573.10" x2="282.37" y2="581.70" stroke="#d8d8d8" stroke-width="0.5"/>
<line x1="334.93" y1="573.10" x2="334.93" y2="581.70" stroke="#d8d8d8" stroke-width="0.5"/>
<text x="231.40" y="580.06" font-size="6.87" fill="#222" stroke="#222" stroke-width="0.15" textLength="18.50" lengthAdjust="spacingAndGlyphs">R320*</text>
<text x="381.20" y="580.06" font-size="6.87" fill="#222" stroke="#222" stroke-width="0.15" text-anchor="end" textLength="9.60" lengthAdjust="spacingAndGlyphs">WT</text>
<rect x="229.80" y="489.20" width="157.70" height="92.50" fill="none" stroke="#444" stroke-width="0.7"/>
<line x1="229.80" y1="489.20" x2="387.50" y2="489.20" stroke="#333" stroke-width="1.1"/>
<line x1="229.80" y1="551.90" x2="387.50" y2="551.90" stroke="#666" stroke-width="0.7"/>
<line x1="229.80" y1="573.10" x2="387.50" y2="573.10" stroke="#8a8a8a" stroke-width="0.9"/>
<line x1="229.80" y1="581.70" x2="387.50" y2="581.70" stroke="#333" stroke-width="1.3"/>
<line x1="229.80" y1="489.20" x2="229.80" y2="581.70" stroke="#222" stroke-width="1.0"/>
<line x1="227.30" y1="544.30" x2="229.80" y2="544.30" stroke="#222" stroke-width="0.8"/>
<text x="224.20" y="546.88" font-size="7.19" fill="#222" stroke="#222" stroke-width="0.15" text-anchor="end" textLength="9.17" lengthAdjust="spacingAndGlyphs">0.0</text>
<line x1="227.30" y1="534.54" x2="229.80" y2="534.54" stroke="#222" stroke-width="0.8"/>
<text x="224.20" y="537.12" font-size="7.19" fill="#222" stroke="#222" stroke-width="0.15" text-anchor="end" textLength="9.17" lengthAdjust="spacingAndGlyphs">0.1</text>
<line x1="227.30" y1="524.78" x2="229.80" y2="524.78" stroke="#222" stroke-width="0.8"/>
<text x="224.20" y="527.36" font-size="7.19" fill="#222" stroke="#222" stroke-width="0.15" text-anchor="end" textLength="9.17" lengthAdjust="spacingAndGlyphs">0.2</text>
<line x1="227.30" y1="515.02" x2="229.80" y2="515.02" stroke="#222" stroke-width="0.8"/>
<text x="224.20" y="517.60" font-size="7.19" fill="#222" stroke="#222" stroke-width="0.15" text-anchor="end" textLength="9.17" lengthAdjust="spacingAndGlyphs">0.3</text>
<line x1="227.30" y1="505.26" x2="229.80" y2="505.26" stroke="#222" stroke-width="0.8"/>
<text x="224.20" y="507.84" font-size="7.19" fill="#222" stroke="#222" stroke-width="0.15" text-anchor="end" textLength="9.17" lengthAdjust="spacingAndGlyphs">0.4</text>
<line x1="227.30" y1="495.50" x2="229.80" y2="495.50" stroke="#222" stroke-width="0.8"/>
<text x="224.20" y="498.08" font-size="7.19" fill="#222" stroke="#222" stroke-width="0.15" text-anchor="end" textLength="9.17" lengthAdjust="spacingAndGlyphs">0.5</text>
<text x="384.70" y="498.32" font-size="6.76" fill="#222" stroke="#222" stroke-width="0.15" text-anchor="end" textLength="70.90" lengthAdjust="spacingAndGlyphs">Normalized ES: 1.6763</text>
<text x="308.65" y="473.19" font-size="9.48" fill="#222" stroke="#222" stroke-width="0.15" text-anchor="middle" textLength="127.70" lengthAdjust="spacingAndGlyphs">Acosta Proliferation Independent</text>
<text x="309.05" y="484.49" font-size="9.48" fill="#222" stroke="#222" stroke-width="0.15" text-anchor="middle" textLength="65.50" lengthAdjust="spacingAndGlyphs">MYC Targets Up</text>
<text x="408.50" y="469.00" font-size="11.55" fill="#111" font-weight="bold" textLength="8.24" lengthAdjust="spacingAndGlyphs" stroke="#111" stroke-width="0.3">G</text>
<line x1="449.60" y1="476.50" x2="449.60" y2="568.60" stroke="#333" stroke-width="1.1"/>
<line x1="449.10" y1="568.10" x2="511.00" y2="568.10" stroke="#333" stroke-width="1.1"/>
<line x1="447.00" y1="568.10" x2="449.60" y2="568.10" stroke="#333" stroke-width="0.8"/>
<text x="443.70" y="570.95" font-size="7.96" fill="#222" stroke="#222" stroke-width="0.15" text-anchor="end" textLength="4.06" lengthAdjust="spacingAndGlyphs">0</text>
<line x1="447.00" y1="538.10" x2="449.60" y2="538.10" stroke="#333" stroke-width="0.8"/>
<text x="443.70" y="540.95" font-size="7.96" fill="#222" stroke="#222" stroke-width="0.15" text-anchor="end" textLength="20.30" lengthAdjust="spacingAndGlyphs">10000</text>
<line x1="447.00" y1="508.10" x2="449.60" y2="508.10" stroke="#333" stroke-width="0.8"/>
<text x="443.70" y="510.95" font-size="7.96" fill="#222" stroke="#222" stroke-width="0.15" text-anchor="end" textLength="20.30" lengthAdjust="spacingAndGlyphs">20000</text>
<line x1="447.00" y1="478.10" x2="449.60" y2="478.10" stroke="#333" stroke-width="0.8"/>
<text x="443.70" y="480.95" font-size="7.96" fill="#222" stroke="#222" stroke-width="0.15" text-anchor="end" textLength="20.30" lengthAdjust="spacingAndGlyphs">30000</text>
<rect x="459.00" y="534.30" width="17.60" height="33.80" fill="#124f8e" stroke="#0b3561" stroke-width="0.6"/>
<rect x="485.50" y="493.20" width="17.50" height="74.90" fill="#d0021b" stroke="#9e0a1a" stroke-width="0.6"/>
<line x1="463.00" y1="533.90" x2="473.00" y2="533.90" stroke="#0b2a50" stroke-width="0.8"/>
<line x1="489.00" y1="492.60" x2="499.50" y2="492.60" stroke="#7a0a15" stroke-width="0.8"/>
<line x1="467.80" y1="568.10" x2="467.80" y2="570.50" stroke="#333" stroke-width="0.8"/>
<line x1="494.30" y1="568.10" x2="494.30" y2="570.50" stroke="#333" stroke-width="0.8"/>
<text x="467.10" y="581.61" font-size="7.85" fill="#222" stroke="#222" stroke-width="0.15" text-anchor="middle" textLength="10.30" lengthAdjust="spacingAndGlyphs">WT</text>
<text x="494.60" y="581.61" font-size="7.85" fill="#222" stroke="#222" stroke-width="0.15" text-anchor="middle" textLength="21.60" lengthAdjust="spacingAndGlyphs">R320*</text>
<line x1="468.50" y1="483.80" x2="494.00" y2="483.80" stroke="#333" stroke-width="0.8"/>
<text x="481.40" y="485.28" font-size="9.16" fill="#222" stroke="#222" stroke-width="0.15" text-anchor="middle" textLength="10.80" lengthAdjust="spacingAndGlyphs">****</text>
<text x="416.20" y="521.40" font-size="7.85" fill="#222" stroke="#222" stroke-width="0.15" text-anchor="middle" textLength="50.50" lengthAdjust="spacingAndGlyphs" transform="rotate(-90 416.20 521.40)">Normalized counts</text>
<rect x="0.5" y="0.5" width="519" height="588" fill="none" stroke="#555" stroke-width="1"/>
</svg></body></html>
